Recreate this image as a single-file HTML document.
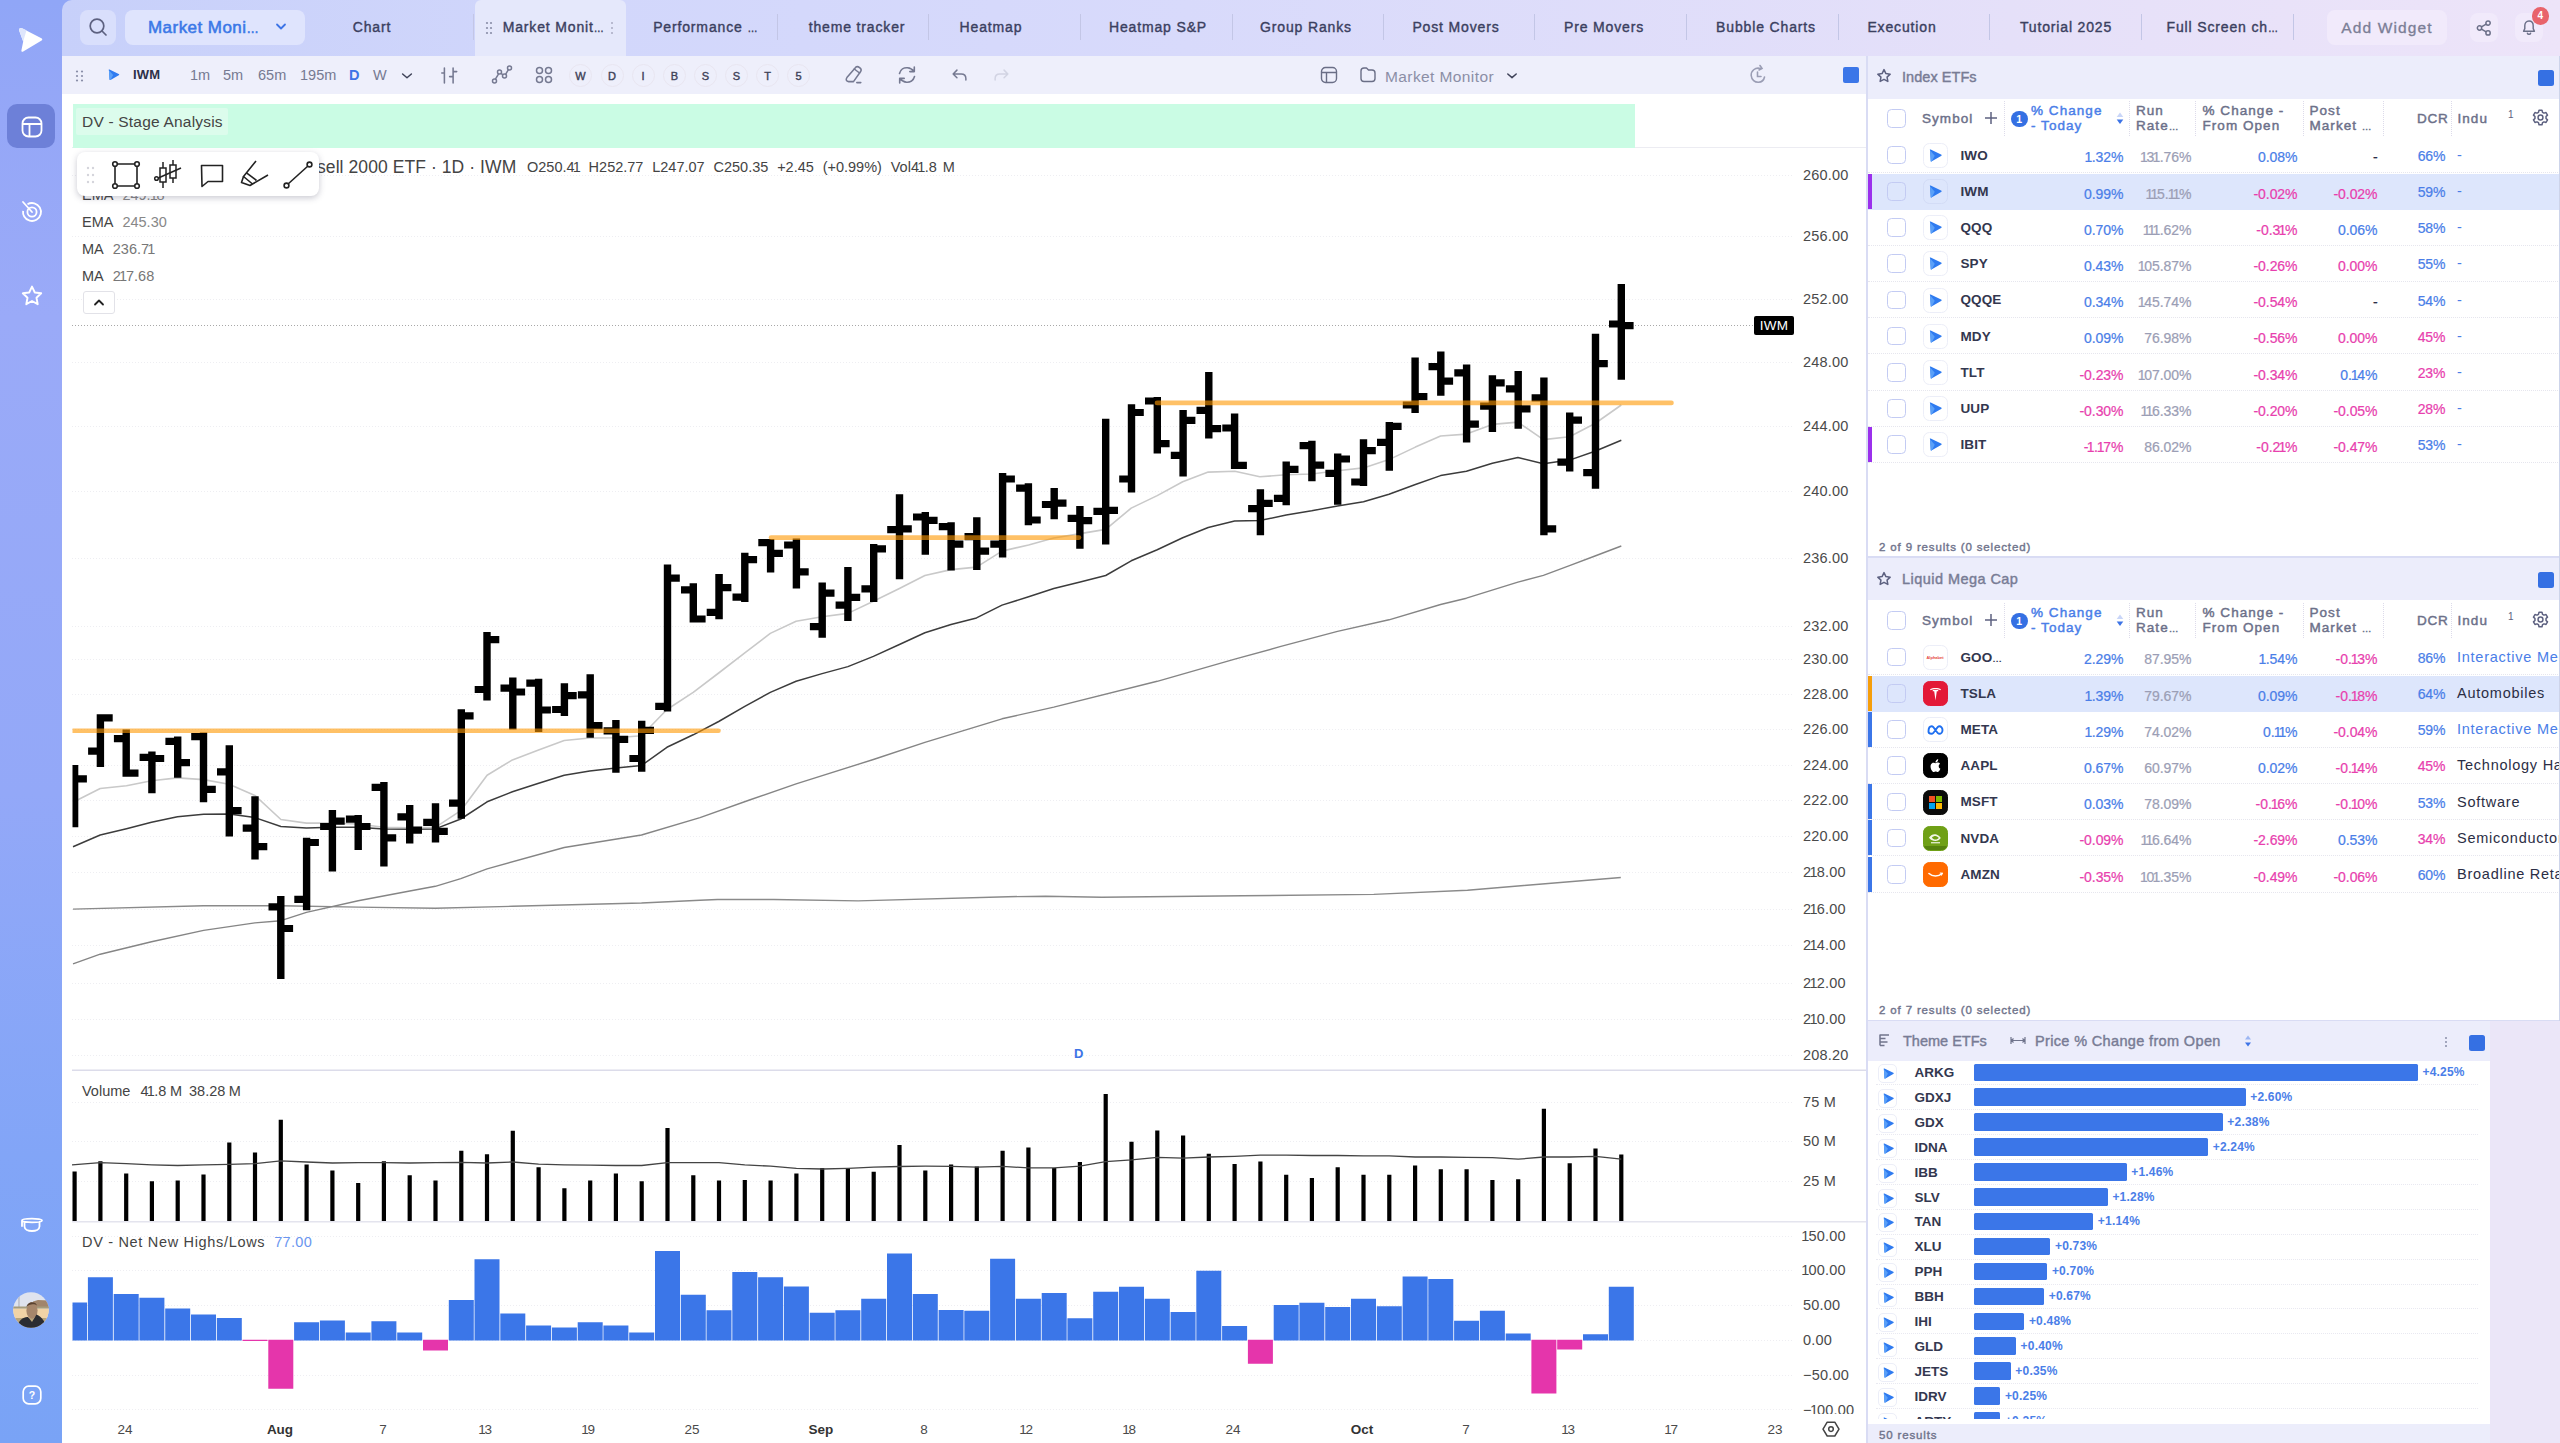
<!DOCTYPE html>
<html><head><meta charset="utf-8"><title>Market Monitor</title>
<style>
*{box-sizing:border-box;margin:0;padding:0}
html,body{width:2560px;height:1443px;overflow:hidden;background:#fff}
body{font-family:"Liberation Sans",sans-serif;color:#3a3f55;position:relative}
.abs{position:absolute}
b.o{font-weight:inherit;margin:0 -1.15px 0 -1.75px}
b.o.a{margin-left:-1px}
b.o.z{margin-right:-.5px}
.el{font-size:72%;letter-spacing:-.6px;margin-left:0}
.sb{font-weight:normal!important;-webkit-text-stroke:.45px currentColor}
.ax{font-size:14.5px;color:#4a4a4a;line-height:20px;white-space:nowrap;letter-spacing:.2px}
.axx{font-size:13.5px;color:#4a4a4a;width:60px;text-align:center;line-height:20px}
.axx.b{font-weight:bold;color:#333}
#side{left:0;top:0;width:62px;height:1443px;background:linear-gradient(180deg,#90a6f7 0%,#95a7f7 8%,#9aaaf8 22%,#93a8f8 55%,#82a5f7 80%,#79a3f6 100%)}
#top{left:62px;top:0;width:2498px;height:56px;border-top-left-radius:10px;background:linear-gradient(90deg,#c7d0fa 0%,#d2d7fb 22%,#d8dafb 45%,#e5e0f9 78%,#ede4f9 100%)}
.tab{position:absolute;top:0;height:56px;line-height:55.5px;font-size:14px;font-weight:normal;-webkit-text-stroke:.38px #3b4060;color:#3b4060;text-align:center;white-space:nowrap;letter-spacing:.85px}
.sep{position:absolute;top:14px;width:1px;height:26px;background:#c3c6e6}
#tool{left:62px;top:56px;width:1805px;height:38px;background:#eeeffb}
.tf{position:absolute;top:0;line-height:38px;font-size:14.5px;color:#767a92;white-space:nowrap}
.circ{position:absolute;top:8px;width:23px;height:23px;border-radius:12px;border:1px solid #e9e6f1;font-size:11px;font-weight:normal;-webkit-text-stroke:.4px #3e4258;color:#3e4258;text-align:center;line-height:23px}
#chart{position:absolute;left:0;top:0;width:1867px;height:1443px}
.leg{position:absolute;left:82px;font-size:14.5px;color:#444;line-height:20px;white-space:nowrap;margin-top:.7px}
.leg span{color:#888;margin-left:9px}
</style></head><body>
<div id="side" class="abs"><svg class="abs" style="left:17px;top:26px" width="28" height="28" viewBox="0 0 28 28" ><path d="M4.500 2C2.800 1.600 1.600 3 2.200 4.800L6.200 15.400L4.400 24.400C4.200 25.600 5.200 26.200 6.200 25.600L24.600 14.600C25.600 14 25.500 12.800 24.400 12.300Z" fill="#fff"/><path d="M4.500 2C2.800 1.600 1.600 3 2.200 4.800L6.200 15.400L9.500 4.200Z" fill="#dfe6fc"/></svg><div class="abs" style="left:7px;top:104px;width:48px;height:44px;border-radius:10px;background:#6d80d8"></div><svg class="abs" style="left:21px;top:116px" width="22" height="22" viewBox="0 0 22 22" ><rect x="1.5" y="1.5" width="19" height="19" rx="6" fill="none" stroke="#fff" stroke-width="1.8"/><path d="M1.5 8H20.5M8.5 8V20.5" stroke="#fff" stroke-width="1.8" fill="none"/></svg><svg class="abs" style="left:20px;top:199px" width="24" height="24" viewBox="0 0 24 24" ><circle cx="12" cy="13" r="9" fill="none" stroke="#fff" stroke-width="1.8" stroke-dasharray="48 9" transform="rotate(-120 12 13)"/><circle cx="12" cy="13" r="4.6" fill="none" stroke="#fff" stroke-width="1.8"/><path d="M3 3L12 13" stroke="#fff" stroke-width="1.8" stroke-linecap="round"/></svg><svg class="abs" style="left:20px;top:284px" width="24" height="24" viewBox="0 0 24 24" ><path d="M12 2.6l2.8 5.9 6.4.8-4.7 4.5 1.2 6.4L12 17l-5.7 3.2 1.2-6.4L2.8 9.3l6.4-.8z" fill="none" stroke="#fff" stroke-width="1.9" stroke-linejoin="round"/></svg><svg class="abs" style="left:19px;top:1214px" width="26" height="20" viewBox="0 0 26 20" ><path d="M3 6.5C3 4 23 4 23 6.5S3 9 3 6.5ZM5.5 8V12.5C5.5 18.5 20.5 18.5 20.5 12.5V8M3 6.5V12" fill="none" stroke="#fff" stroke-width="1.8" stroke-linecap="round"/></svg><svg class="abs" style="left:13px;top:1291.5px" width="36" height="36" viewBox="0 0 36 36" ><defs><clipPath id="av"><circle cx="18" cy="18" r="17.800"/></clipPath></defs><g clip-path="url(#av)"><rect width="36" height="36" fill="#dfe3ee"/><rect x="5.300" y="4" width="1.300" height="11" fill="#b5b8c2"/><path d="M20 9.500L25 8L36 8.500V16H20Z" fill="#a1856b"/><rect x="0" y="14.500" width="36" height="2.200" fill="#a59c7c"/><rect x="0" y="16.700" width="36" height="9.500" fill="#f1d3a6"/><rect x="0" y="26" width="36" height="10" fill="#b8a47c"/><ellipse cx="19" cy="18.500" rx="5.600" ry="8.200" fill="#a6866b"/><path d="M13.500 15C14 9.500 22.500 8.500 24 13.500C22 11.500 16 11.500 13.500 15Z" fill="#5b4330"/><path d="M4 36C5 28 11 24.500 15 25L19 30L23.500 22.500C29 25 32.500 30 33.500 36Z" fill="#2b2c31"/></g></svg><svg class="abs" style="left:22px;top:1385px" width="20" height="20" viewBox="0 0 20 20" ><rect x="1.200" y="1.200" width="17.600" height="17.600" rx="5.500" fill="none" stroke="#fff" stroke-width="1.700"/><text x="10" y="14" font-family="Liberation Sans" font-size="10.500" font-weight="bold" fill="#fff" text-anchor="middle">?</text></svg></div><div class="abs" style="left:62px;top:0;width:12px;height:12px;background:#90a6f7"></div><div id="top" class="abs"><div class="abs" style="left:18px;top:10px;width:36px;height:35px;border-radius:8px;background:#d9dffc"></div><svg class="abs" style="left:26px;top:17px" width="20" height="20" viewBox="0 0 20 20" ><circle cx="9" cy="9" r="6.8" fill="none" stroke="#5d6180" stroke-width="1.7"/><path d="M14 14L18 18" stroke="#5d6180" stroke-width="1.7" stroke-linecap="round"/></svg><div class="abs" style="left:63px;top:10px;width:180px;height:35px;border-radius:8px;background:#dfe4fd"></div><div class="abs" style="left:86px;top:10px;line-height:35px;font-size:17px;font-weight:normal;-webkit-text-stroke:.55px #3b78e7;color:#3b78e7;letter-spacing:.45px;white-space:nowrap">Market Moni<span class="el">…</span></div><svg class="abs" style="left:213px;top:22px" width="12" height="10" viewBox="0 0 12 10" ><path d="M2 2.5L6 6.5L10 2.5" fill="none" stroke="#3d74e6" stroke-width="1.8" stroke-linecap="round" stroke-linejoin="round"/></svg><div class="abs" style="left:413px;top:0;width:151px;height:56px;background:#e5e8fb;border-radius:6px 6px 0 0"></div><svg class="abs" style="left:423px;top:21px" width="8" height="14" viewBox="0 0 8 14" ><g fill="#8a8ea8"><circle cx="2" cy="2" r="1.1"/><circle cx="6" cy="2" r="1.1"/><circle cx="2" cy="7" r="1.1"/><circle cx="6" cy="7" r="1.1"/><circle cx="2" cy="12" r="1.1"/><circle cx="6" cy="12" r="1.1"/></g></svg><svg class="abs" style="left:548px;top:21px" width="4" height="14" viewBox="0 0 4 14" ><g fill="#a8abc2"><circle cx="2" cy="2" r="1"/><circle cx="2" cy="7" r="1"/><circle cx="2" cy="12" r="1"/></g></svg><div class="tab" style="left:235.0px;width:150px">Chart</div><div class="tab" style="left:416.0px;width:150px">Market Monit<span class="el">…</span></div><div class="tab" style="left:568.0px;width:150px">Performance <span class="el">…</span></div><div class="tab" style="left:720.0px;width:150px">theme tracker</div><div class="tab" style="left:854.0px;width:150px">Heatmap</div><div class="tab" style="left:1021.0px;width:150px">Heatmap S&amp;P</div><div class="tab" style="left:1169.0px;width:150px">Group Ranks</div><div class="tab" style="left:1319.0px;width:150px">Post Movers</div><div class="tab" style="left:1467.0px;width:150px">Pre Movers</div><div class="tab" style="left:1629.0px;width:150px">Bubble Charts</div><div class="tab" style="left:1765.0px;width:150px">Execution</div><div class="tab" style="left:1929.0px;width:150px">Tutorial 2025</div><div class="tab" style="left:2085.0px;width:150px">Full Screen ch<span class="el">…</span></div><div class="sep" style="left:411px"></div><div class="sep" style="left:715px"></div><div class="sep" style="left:866px"></div><div class="sep" style="left:1018px"></div><div class="sep" style="left:1170px"></div><div class="sep" style="left:1321px"></div><div class="sep" style="left:1472px"></div><div class="sep" style="left:1624px"></div><div class="sep" style="left:1776px"></div><div class="sep" style="left:1927px"></div><div class="sep" style="left:2079px"></div><div class="sep" style="left:2231px"></div><div class="abs" style="left:2265px;top:10px;width:120px;height:35px;border-radius:8px;background:#f1eafb"></div><div class="abs" style="left:2265px;top:10px;width:120px;line-height:35px;text-align:center;font-size:15.5px;color:#7b7e96;-webkit-text-stroke:.3px #7b7e96;letter-spacing:1.15px">Add Widget</div><div class="abs" style="left:2408px;top:13px;width:28px;height:29px;border-radius:8px;background:#f1eafb"></div><svg class="abs" style="left:2413px;top:18.5px" width="18" height="18" viewBox="0 0 20 20" ><g fill="none" stroke="#6b6f88" stroke-width="1.65"><circle cx="14.5" cy="4.5" r="2.4"/><circle cx="5" cy="10" r="2.4"/><circle cx="14.5" cy="15.5" r="2.4"/><path d="M7.2 8.8L12.4 5.7M7.2 11.2L12.4 14.3"/></g></svg><div class="abs" style="left:2453px;top:13px;width:28px;height:29px;border-radius:8px;background:#f1eafb"></div><svg class="abs" style="left:2459px;top:19px" width="16" height="18" viewBox="0 0 16 18" ><path d="M8 2C5.200 2 3.800 4 3.800 6.800V9.600L2.600 12.300H13.400L12.200 9.600V6.800C12.200 4 10.800 2 8 2ZM6.400 14.200C6.800 15.600 9.200 15.600 9.600 14.200" fill="none" stroke="#6b6f88" stroke-width="1.45" stroke-linejoin="round" stroke-linecap="round"/></svg><div class="abs" style="left:2469.600px;top:7px;width:17.600px;height:17.600px;border-radius:9px;background:#e8636b;color:#fff;font-size:10px;font-weight:bold;text-align:center;line-height:17.600px">4</div></div><div id="tool" class="abs"><svg class="abs" style="left:13px;top:14px" width="10" height="12" viewBox="0 0 10 12" ><g fill="#8a8ea8"><circle cx="2" cy="1.5" r="1.1"/><circle cx="7" cy="1.5" r="1.1"/><circle cx="2" cy="6" r="1.1"/><circle cx="7" cy="6" r="1.1"/><circle cx="2" cy="10.5" r="1.1"/><circle cx="7" cy="10.5" r="1.1"/></g></svg><svg class="abs" style="left:46px;top:13px" width="12" height="12" viewBox="0 0 16 16" ><path d="M1.2 1.6C0.6 0.9 1.2 0.3 2 0.7L14.3 6.6C15.2 7 15.2 7.9 14.3 8.4L3.4 14.6C2.6 15.1 1.9 14.7 2 13.8Z" fill="#2f7bf0"/><path d="M1.2 1.6L2 13.8C1.9 14.7 2.6 15.1 3.4 14.6L6.8 8Z" fill="#5aa0f8"/></svg><div class="tf"  style="font-size:13px;letter-spacing:.2px;left:71px;color:#2e3148;font-weight:bold;">IWM</div><div class="tf" style="left:128px;color:#767a92;">1m</div><div class="tf" style="left:161px;color:#767a92;">5m</div><div class="tf" style="left:196px;color:#767a92;">65m</div><div class="tf" style="left:238px;color:#767a92;">195m</div><div class="tf" style="left:287px;color:#3d74e6;font-weight:bold;">D</div><div class="tf" style="left:311px;color:#767a92;">W</div><svg class="abs" style="left:339px;top:15px" width="12" height="10" viewBox="0 0 12 10" ><path d="M1.600 3L6 6.800L10.400 3" fill="none" stroke="#3e4258" stroke-width="1.5" stroke-linecap="round" stroke-linejoin="round"/></svg><svg class="abs" style="left:378px;top:9px" width="20" height="20" viewBox="0 0 20 20" ><g fill="none" stroke="#757991" stroke-width="1.55" stroke-linecap="round"><path d="M4.400 3V18M1.800 7.900H4.400M13.100 3V18M13.100 6.600H16.700M13.100 11.600H9.600"/></g></svg><svg class="abs" style="left:429px;top:8px" width="22" height="22" viewBox="0 0 22 22" ><g fill="none" stroke="#757991" stroke-width="1.5"><circle cx="3.5" cy="17" r="2"/><circle cx="8.5" cy="8" r="2"/><circle cx="13.5" cy="12" r="2"/><circle cx="18.5" cy="4" r="2"/><path d="M4.4 15.2L7.6 9.8M10 9.3L12 10.8M14.6 10.3L17.4 5.7"/></g></svg><svg class="abs" style="left:473px;top:10px" width="18" height="18" viewBox="0 0 18 18" ><g fill="none" stroke="#757991" stroke-width="1.5"><circle cx="4.5" cy="4.5" r="3"/><circle cx="13.5" cy="4.5" r="3"/><circle cx="4.5" cy="13.5" r="3"/><circle cx="13.5" cy="13.5" r="3"/></g></svg><div class="circ" style="left:507.0px">W</div><div class="circ" style="left:538.5px">D</div><div class="circ" style="left:569.5px">I</div><div class="circ" style="left:601.0px">B</div><div class="circ" style="left:632.0px">S</div><div class="circ" style="left:663.0px">S</div><div class="circ" style="left:694.0px">T</div><div class="circ" style="left:725.0px">5</div><svg class="abs" style="left:781px;top:8px" width="22" height="22" viewBox="0 0 22 22" ><g fill="none" stroke="#757991" stroke-width="1.55" stroke-linejoin="round" stroke-linecap="round"><path d="M12.800 3.200C14.800 1.400 19.300 4.800 17.800 7.200L10.500 17.600H5.600C3.200 17.600 2.600 15.400 3.900 13.600Z"/><path d="M11.300 5L16.500 9M13.800 18.600H17.800"/></g></svg><svg class="abs" style="left:834px;top:8px" width="22" height="22" viewBox="0 0 22 22" ><g fill="none" stroke="#757991" stroke-width="1.6" stroke-linecap="round" stroke-linejoin="round"><path d="M3.5 9.5C4.5 5.5 8 3.5 11.5 3.8C14.5 4 16.5 5.5 18 7.5M18.3 3V7.6H13.8"/><path d="M18.5 12.5C17.5 16.5 14 18.5 10.5 18.2C7.5 18 5.5 16.5 4 14.5M3.7 19V14.4H8.2"/></g></svg><svg class="abs" style="left:889px;top:12px" width="17" height="15.3" viewBox="0 0 20 18" ><path d="M7 2.5L2.5 7L7 11.500M2.500 7H12C15.500 7 17.500 9.500 17.500 12.500V14" fill="none" stroke="#757991" stroke-width="1.75" stroke-linecap="round" stroke-linejoin="round"/></svg><svg class="abs" style="left:930.5px;top:12px" width="17" height="15.3" viewBox="0 0 20 18" ><path d="M13 2.5L17.500 7L13 11.500M17.500 7H8C4.500 7 2.500 9.500 2.500 12.500V14" fill="none" stroke="#d2d4e3" stroke-width="1.75" stroke-linecap="round" stroke-linejoin="round"/></svg><svg class="abs" style="left:1258px;top:10px" width="18" height="18" viewBox="0 0 18 18" ><g fill="none" stroke="#6a6e86" stroke-width="1.4"><rect x="1.5" y="1.5" width="15" height="15" rx="4"/><path d="M1.5 6.5H16.5M6.5 6.5V16.5"/></g></svg><svg class="abs" style="left:1297px;top:10px" width="18" height="18" viewBox="0 0 18 18" ><path d="M2 5C2 3 3 2 5 2H7.5L9.5 4H13C15 4 16 5 16 7V12.5C16 14.5 15 15.5 13 15.5H5C3 15.5 2 14.5 2 12.5Z" fill="none" stroke="#6a6e86" stroke-width="1.4" stroke-linejoin="round"/></svg><div class="tf" style="left:1323px;top:1.500px;font-size:15.5px;color:#8b8ea6;letter-spacing:.4px">Market Monitor</div><svg class="abs" style="left:1444px;top:15px" width="12" height="10" viewBox="0 0 12 10" ><path d="M1.800 3L6 6.600L10.200 3" fill="none" stroke="#3e4258" stroke-width="1.500" stroke-linecap="round" stroke-linejoin="round"/></svg><svg class="abs" style="left:1686px;top:8px" width="20" height="22" viewBox="0 0 20 22" ><g fill="none" stroke="#9a9db4" stroke-width="1.6" stroke-linecap="round"><path d="M12.5 4.5C7 3 3 7 3.2 11.5C3.5 16 7 18.5 10.5 18.3C14 18 16 15.5 16.5 13"/><path d="M9.5 8V12.5H13M12 1.5L14 4.5L11 6"/></g></svg><div class="abs" style="left:1781px;top:11px;width:16px;height:16px;border-radius:2px;background:#3b76e8"></div></div><div id="chart"><svg class="abs" style="left:0;top:0" width="2560" height="1443" viewBox="0 0 2560 1443">
<line x1="72" x2="1793" y1="175.5" y2="175.5" stroke="#eeeef2" stroke-width="1" stroke-dasharray="1 2"/>
<line x1="72" x2="1793" y1="236.5" y2="236.5" stroke="#eeeef2" stroke-width="1" stroke-dasharray="1 2"/>
<line x1="72" x2="1793" y1="299.5" y2="299.5" stroke="#eeeef2" stroke-width="1" stroke-dasharray="1 2"/>
<line x1="72" x2="1793" y1="362.5" y2="362.5" stroke="#eeeef2" stroke-width="1" stroke-dasharray="1 2"/>
<line x1="72" x2="1793" y1="426.5" y2="426.5" stroke="#eeeef2" stroke-width="1" stroke-dasharray="1 2"/>
<line x1="72" x2="1793" y1="491.5" y2="491.5" stroke="#eeeef2" stroke-width="1" stroke-dasharray="1 2"/>
<line x1="72" x2="1793" y1="558.5" y2="558.5" stroke="#eeeef2" stroke-width="1" stroke-dasharray="1 2"/>
<line x1="72" x2="1793" y1="626.5" y2="626.5" stroke="#eeeef2" stroke-width="1" stroke-dasharray="1 2"/>
<line x1="72" x2="1793" y1="659.5" y2="659.5" stroke="#eeeef2" stroke-width="1" stroke-dasharray="1 2"/>
<line x1="72" x2="1793" y1="694.5" y2="694.5" stroke="#eeeef2" stroke-width="1" stroke-dasharray="1 2"/>
<line x1="72" x2="1793" y1="729.5" y2="729.5" stroke="#eeeef2" stroke-width="1" stroke-dasharray="1 2"/>
<line x1="72" x2="1793" y1="765.5" y2="765.5" stroke="#eeeef2" stroke-width="1" stroke-dasharray="1 2"/>
<line x1="72" x2="1793" y1="800.5" y2="800.5" stroke="#eeeef2" stroke-width="1" stroke-dasharray="1 2"/>
<line x1="72" x2="1793" y1="836.5" y2="836.5" stroke="#eeeef2" stroke-width="1" stroke-dasharray="1 2"/>
<line x1="72" x2="1793" y1="872.5" y2="872.5" stroke="#eeeef2" stroke-width="1" stroke-dasharray="1 2"/>
<line x1="72" x2="1793" y1="909.5" y2="909.5" stroke="#eeeef2" stroke-width="1" stroke-dasharray="1 2"/>
<line x1="72" x2="1793" y1="945.5" y2="945.5" stroke="#eeeef2" stroke-width="1" stroke-dasharray="1 2"/>
<line x1="72" x2="1793" y1="983.5" y2="983.5" stroke="#eeeef2" stroke-width="1" stroke-dasharray="1 2"/>
<line x1="72" x2="1793" y1="1019.5" y2="1019.5" stroke="#eeeef2" stroke-width="1" stroke-dasharray="1 2"/>
<line x1="72" x2="1793" y1="1055.5" y2="1055.5" stroke="#eeeef2" stroke-width="1" stroke-dasharray="1 2"/>
<line x1="72" x2="1793" y1="1102.5" y2="1102.5" stroke="#eeeef2" stroke-width="1" stroke-dasharray="1 2"/>
<line x1="72" x2="1793" y1="1141.5" y2="1141.5" stroke="#eeeef2" stroke-width="1" stroke-dasharray="1 2"/>
<line x1="72" x2="1793" y1="1181.5" y2="1181.5" stroke="#eeeef2" stroke-width="1" stroke-dasharray="1 2"/>
<line x1="72" x2="1793" y1="1236.5" y2="1236.5" stroke="#eeeef2" stroke-width="1" stroke-dasharray="1 2"/>
<line x1="72" x2="1793" y1="1270.5" y2="1270.5" stroke="#eeeef2" stroke-width="1" stroke-dasharray="1 2"/>
<line x1="72" x2="1793" y1="1305.5" y2="1305.5" stroke="#eeeef2" stroke-width="1" stroke-dasharray="1 2"/>
<line x1="72" x2="1793" y1="1340.5" y2="1340.5" stroke="#eeeef2" stroke-width="1" stroke-dasharray="1 2"/>
<line x1="72" x2="1793" y1="1375.5" y2="1375.5" stroke="#eeeef2" stroke-width="1" stroke-dasharray="1 2"/>
<line x1="72" x2="1793" y1="1409.5" y2="1409.5" stroke="#eeeef2" stroke-width="1" stroke-dasharray="1 2"/>
<rect x="72" y="1069.5" width="1794" height="1.5" fill="#dcdcea"/>
<rect x="72" y="1221" width="1794" height="1.5" fill="#e4e4ee"/>
<rect x="72" y="147" width="1794" height="1" fill="#ececf2"/>
<polyline points="73.0,909.1 203.6,905.7 280.9,905.7 358.2,907.1 435.3,908.2 512.4,906.3 641.5,903.0 700.0,900.2 717.5,899.5 773.8,899.5 858.1,900.9 1008.1,896.7 1045.6,896.2 1101.9,897.2 1242.5,895.8 1373.8,894.4 1467.5,890.2 1523.8,885.5 1620.8,877.5" fill="none" stroke="#8a8a8a" stroke-width="1.4" stroke-linejoin="round"/>
<polyline points="73.0,963.9 100.2,954.2 151.5,941.8 203.6,930.4 254.9,922.9 280.9,920.7 306.4,912.4 358.2,900.7 409.8,891.0 435.3,886.3 460.8,878.6 487.1,868.9 564.2,847.5 641.5,835.0 700.0,817.6 749.5,800.0 796.1,783.9 873.4,759.5 924.9,742.3 1002.0,718.8 1053.8,707.1 1157.2,681.3 1234.8,659.2 1280.0,646.7 1337.5,631.4 1389.0,619.8 1440.6,604.5 1466.4,598.2 1517.9,582.1 1543.4,575.4 1569.5,565.7 1595.0,556.0 1621.3,546.0" fill="none" stroke="#858585" stroke-width="1.4" stroke-linejoin="round"/>
<polyline points="73.0,802.3 100.2,788.5 126.5,785.7 151.5,780.7 177.5,777.9 203.6,779.6 229.1,784.3 254.9,795.4 280.9,819.5 306.4,823.1 332.2,823.1 358.2,824.0 383.5,827.3 409.8,827.8 435.3,827.3 460.8,810.7 487.1,775.2 512.4,759.9 537.9,750.2 564.2,740.5 589.7,738.0 616.0,737.8 641.5,735.8 667.0,709.5 693.2,692.4 718.7,673.0 744.8,652.8 770.3,633.4 796.1,621.2 822.1,616.8 847.9,613.4 873.4,601.2 899.4,588.5 924.9,575.5 951.0,569.6 976.5,567.1 1002.0,551.1 1028.6,545.0 1053.8,538.0 1080.2,533.6 1105.7,529.4 1131.2,508.1 1157.2,495.6 1182.7,481.8 1208.2,472.1 1234.8,471.2 1259.8,476.8 1286.2,474.8 1311.7,474.0 1337.5,470.7 1363.5,467.9 1389.0,459.6 1415.4,447.1 1440.6,436.0 1466.4,434.1 1492.4,424.4 1517.9,422.1 1543.4,439.6 1569.5,436.8 1595.0,423.5 1621.3,405.0" fill="none" stroke="#c9c9c9" stroke-width="1.6" stroke-linejoin="round"/>
<polyline points="73.0,846.7 100.2,835.0 126.5,828.7 151.5,822.3 177.5,816.8 203.6,814.3 229.1,814.0 254.9,817.6 280.9,826.5 306.4,828.1 332.2,827.3 358.2,827.3 383.5,828.9 409.8,829.2 435.3,828.9 460.8,819.0 487.1,801.8 512.4,791.8 537.9,783.5 564.2,775.2 589.7,771.0 616.0,768.0 641.5,765.5 666.9,747.3 693.2,734.8 718.7,721.5 744.8,706.3 770.3,692.4 796.1,681.3 822.1,673.6 847.9,666.6 873.4,656.4 899.4,644.5 924.9,632.8 951.0,624.5 976.5,617.9 1002.0,605.1 1028.6,596.8 1053.8,588.5 1080.2,582.1 1105.7,575.5 1131.2,560.8 1157.2,549.7 1182.7,537.8 1208.2,527.5 1234.6,521.1 1259.8,520.6 1286.2,515.0 1311.7,510.8 1337.5,505.9 1363.5,501.7 1389.0,494.2 1415.4,484.5 1440.6,475.6 1466.4,471.2 1492.4,463.2 1517.9,457.6 1543.4,463.7 1569.5,460.1 1595.0,451.3 1621.3,440.2" fill="none" stroke="#3c3c3c" stroke-width="1.5" stroke-linejoin="round"/>
<line x1="72" x2="1754" y1="325.5" y2="325.5" stroke="#a8a8a8" stroke-width="1" stroke-dasharray="1 2"/>
<path d="M72.5 764.9H78.3V827.3H72.5ZM74.6 775.2H86.9V782.4H74.6ZM96.7 714.2H104.1V767.1H96.7ZM88.1 747.5H100.4V754.7H88.1ZM100.4 714.2H112.7V721.4H100.4ZM122.5 729.4H129.9V776.8H122.5ZM113.9 735.0H126.2V742.2H113.9ZM126.2 769.6H138.5V776.8H126.2ZM148.2 751.6H155.6V793.2H148.2ZM139.6 753.8H151.9V761.0H139.6ZM151.9 754.9H164.2V762.1H151.9ZM174.0 736.4H181.4V777.7H174.0ZM165.4 737.8H177.7V745.0H165.4ZM177.7 759.1H190.0V766.3H177.7ZM199.8 732.5H207.2V802.3H199.8ZM191.2 733.0H203.5V740.2H191.2ZM203.5 785.7H215.8V792.9H203.5ZM225.6 745.2H233.0V836.4H225.6ZM217.0 768.2H229.3V775.4H217.0ZM229.3 807.1H241.6V814.3H229.3ZM251.3 796.2H258.7V859.4H251.3ZM242.7 824.5H255.0V831.7H242.7ZM255.0 843.1H267.3V850.3H255.0ZM277.1 896.0H284.5V978.9H277.1ZM268.5 903.2H280.8V910.4H268.5ZM280.8 924.9H293.1V932.1H280.8ZM302.9 837.8H310.3V910.2H302.9ZM294.3 895.8H306.6V903.0H294.3ZM306.6 838.9H318.9V846.1H306.6ZM328.7 810.1H336.1V871.4H328.7ZM320.1 822.9H332.4V830.1H320.1ZM332.4 817.6H344.7V824.8H332.4ZM354.5 815.1H361.9V850.0H354.5ZM345.9 815.6H358.2V822.8H345.9ZM358.2 822.9H370.5V830.1H358.2ZM380.2 782.1H387.6V866.4H380.2ZM371.6 783.8H383.9V791.0H371.6ZM383.9 834.2H396.2V841.4H383.9ZM406.0 805.1H413.4V843.4H406.0ZM397.4 813.2H409.7V820.4H397.4ZM409.7 826.5H422.0V833.7H409.7ZM431.8 803.2H439.2V842.5H431.8ZM423.2 818.7H435.5V825.9H423.2ZM435.5 827.8H447.8V835.0H435.5ZM457.6 709.2H465.0V818.7H457.6ZM449.0 799.6H461.3V806.8H449.0ZM461.3 712.3H473.6V719.5H461.3ZM483.3 631.9H490.7V700.6H483.3ZM474.7 685.9H487.0V693.1H474.7ZM487.0 636.0H499.3V643.2H487.0ZM509.1 677.6H516.5V729.4H509.1ZM500.5 684.5H512.8V691.7H500.5ZM512.8 688.4H525.1V695.6H512.8ZM534.9 678.7H542.3V731.9H534.9ZM526.3 679.6H538.6V686.8H526.3ZM538.6 706.4H550.9V713.6H538.6ZM560.7 683.2H568.1V715.9H560.7ZM552.1 705.9H564.4V713.1H552.1ZM564.4 692.0H576.7V699.2H564.4ZM586.5 674.3H593.9V737.8H586.5ZM577.9 691.2H590.2V698.4H577.9ZM590.2 722.0H602.5V729.2H590.2ZM612.2 720.0H619.6V772.7H612.2ZM603.6 727.2H615.9V734.4H603.6ZM615.9 735.8H628.2V743.0H615.9ZM638.0 720.8H645.4V771.8H638.0ZM629.4 754.9H641.7V762.1H629.4ZM641.7 726.7H654.0V733.9H641.7ZM663.8 564.6H671.2V711.5H663.8ZM655.2 702.7H667.5V709.9H655.2ZM667.5 574.6H679.8V581.8H667.5ZM689.6 583.2H697.0V622.6H689.6ZM681.0 586.3H693.3V593.5H681.0ZM693.3 615.4H705.6V622.6H693.3ZM715.3 574.1H722.8V619.2H715.3ZM706.7 608.7H719.0V615.9H706.7ZM719.0 584.0H731.4V591.2H719.0ZM741.1 552.7H748.5V602.1H741.1ZM732.5 593.5H744.8V600.7H732.5ZM744.8 556.1H757.1V563.3H744.8ZM766.9 539.1H774.3V572.4H766.9ZM758.3 539.1H770.6V546.3H758.3ZM770.6 549.7H782.9V556.9H770.6ZM792.7 538.6H800.1V588.5H792.7ZM784.1 541.4H796.4V548.6H784.1ZM796.4 568.2H808.7V575.4H796.4ZM818.5 582.4H825.9V637.8H818.5ZM809.9 623.1H822.2V630.3H809.9ZM822.2 589.6H834.5V596.8H822.2ZM844.2 567.1H851.6V620.9H844.2ZM835.6 601.5H847.9V608.7H835.6ZM847.9 593.7H860.2V600.9H847.9ZM870.0 544.1H877.4V602.1H870.0ZM861.4 585.2H873.7V592.4H861.4ZM873.7 545.2H886.0V552.4H873.7ZM895.8 494.2H903.2V579.3H895.8ZM887.2 526.1H899.5V533.3H887.2ZM899.5 525.3H911.8V532.5H899.5ZM921.6 512.0H929.0V554.7H921.6ZM913.0 513.4H925.3V520.6H913.0ZM925.3 516.7H937.6V523.9H925.3ZM947.4 522.2H954.8V570.5H947.4ZM938.8 523.1H951.1V530.3H938.8ZM951.1 540.5H963.4V547.7H951.1ZM973.1 517.2H980.5V569.9H973.1ZM964.5 533.0H976.8V540.2H964.5ZM976.8 547.5H989.1V554.7H976.8ZM998.9 472.9H1006.3V557.4H998.9ZM990.3 540.5H1002.6V547.7H990.3ZM1002.6 475.4H1014.9V482.6H1002.6ZM1024.7 483.2H1032.1V525.3H1024.7ZM1016.1 484.5H1028.4V491.7H1016.1ZM1028.4 516.4H1040.7V523.6H1028.4ZM1050.5 488.1H1057.9V519.2H1050.5ZM1041.9 500.9H1054.2V508.1H1041.9ZM1054.2 499.5H1066.5V506.7H1054.2ZM1076.2 505.9H1083.6V548.8H1076.2ZM1067.6 514.8H1079.9V522.0H1067.6ZM1079.9 517.0H1092.2V524.2H1079.9ZM1102.0 418.8H1109.4V544.4H1102.0ZM1093.4 507.8H1105.7V515.0H1093.4ZM1105.7 506.7H1118.0V513.9H1105.7ZM1127.8 404.2H1135.2V492.6H1127.8ZM1119.2 475.4H1131.5V482.6H1119.2ZM1131.5 408.9H1143.8V416.1H1131.5ZM1153.6 397.1H1161.0V453.6H1153.6ZM1145.0 397.4H1157.3V404.6H1145.0ZM1157.3 440.1H1169.6V447.3H1157.3ZM1179.4 410.1H1186.8V476.5H1179.4ZM1170.8 451.8H1183.1V459.0H1170.8ZM1183.1 416.8H1195.4V424.0H1183.1ZM1205.1 371.9H1212.5V438.4H1205.1ZM1196.5 406.7H1208.8V413.9H1196.5ZM1208.8 425.1H1221.1V432.3H1208.8ZM1230.9 413.5H1238.3V468.9H1230.9ZM1222.3 424.4H1234.6V431.6H1222.3ZM1234.6 461.7H1246.9V468.9H1234.6ZM1256.7 489.2H1264.1V535.2H1256.7ZM1248.1 505.0H1260.4V512.2H1248.1ZM1260.4 499.8H1272.7V507.0H1260.4ZM1282.5 461.5H1289.9V505.3H1282.5ZM1273.9 494.8H1286.2V502.0H1273.9ZM1286.2 465.7H1298.5V472.9H1286.2ZM1308.2 440.7H1315.6V481.2H1308.2ZM1299.6 442.1H1311.9V449.3H1299.6ZM1311.9 461.5H1324.2V468.7H1311.9ZM1334.0 453.5H1341.4V504.7H1334.0ZM1325.4 469.8H1337.7V477.0H1325.4ZM1337.7 455.4H1350.0V462.6H1337.7ZM1359.8 439.3H1367.2V485.9H1359.8ZM1351.2 478.4H1363.5V485.6H1351.2ZM1363.5 447.1H1375.8V454.3H1363.5ZM1385.6 422.1H1393.0V470.7H1385.6ZM1377.0 438.8H1389.3V446.0H1377.0ZM1389.3 422.7H1401.6V429.9H1389.3ZM1411.4 357.6H1418.8V413.0H1411.4ZM1402.8 401.4H1415.1V408.6H1402.8ZM1415.1 393.0H1427.4V400.2H1415.1ZM1437.1 351.5H1444.5V395.8H1437.1ZM1428.5 363.1H1440.8V370.3H1428.5ZM1440.8 377.5H1453.1V384.7H1440.8ZM1462.9 364.5H1470.3V442.4H1462.9ZM1454.3 369.2H1466.6V376.4H1454.3ZM1466.6 420.5H1478.9V427.7H1466.6ZM1488.7 375.3H1496.1V432.1H1488.7ZM1480.1 402.5H1492.4V409.7H1480.1ZM1492.4 379.2H1504.7V386.4H1492.4ZM1514.5 370.9H1521.9V428.8H1514.5ZM1505.9 385.3H1518.2V392.5H1505.9ZM1518.2 405.2H1530.5V412.4H1518.2ZM1540.2 377.5H1547.6V535.2H1540.2ZM1531.6 394.2H1543.9V401.4H1531.6ZM1543.9 525.3H1556.2V532.5H1543.9ZM1566.0 412.4H1573.4V471.5H1566.0ZM1557.4 458.5H1569.7V465.7H1557.4ZM1569.7 416.6H1582.0V423.8H1569.7ZM1591.8 333.7H1599.2V488.7H1591.8ZM1583.2 469.0H1595.5V476.2H1583.2ZM1595.5 360.1H1607.8V367.3H1595.5ZM1617.6 284.1H1625.0V379.7H1617.6ZM1609.0 320.4H1621.3V327.6H1609.0ZM1621.3 322.1H1633.6V329.3H1621.3Z" fill="#000"/>
<clipPath id="cpl"><rect x="72.5" y="0" width="1800" height="1443"/></clipPath>
<line clip-path="url(#cpl)" x1="60" x2="718.5" y1="730.8" y2="730.8" stroke="#ff9800" stroke-opacity="0.6" stroke-width="4.6" stroke-linecap="round"/>
<line clip-path="url(#cpl)" x1="771" x2="1079" y1="537.6" y2="537.6" stroke="#ff9800" stroke-opacity="0.6" stroke-width="4.6" stroke-linecap="round"/>
<line clip-path="url(#cpl)" x1="1157" x2="1671.5" y1="402.9" y2="402.9" stroke="#ff9800" stroke-opacity="0.6" stroke-width="4.6" stroke-linecap="round"/>
<path d="M72.5 1171.4H76.7V1221H72.5ZM98.3 1161.2H102.5V1221H98.3ZM124.1 1173.6H128.3V1221H124.1ZM149.8 1181.3H154.0V1221H149.8ZM175.6 1180.6H179.8V1221H175.6ZM201.4 1174.6H205.6V1221H201.4ZM227.2 1142.6H231.4V1221H227.2ZM252.9 1152.5H257.1V1221H252.9ZM278.7 1119.8H282.9V1221H278.7ZM304.5 1164.4H308.7V1221H304.5ZM330.3 1170.4H334.5V1221H330.3ZM356.1 1183.0H360.3V1221H356.1ZM381.8 1161.2H386.0V1221H381.8ZM407.6 1175.3H411.8V1221H407.6ZM433.4 1180.6H437.6V1221H433.4ZM459.2 1150.7H463.4V1221H459.2ZM484.9 1154.2H489.1V1221H484.9ZM510.7 1130.7H514.9V1221H510.7ZM536.5 1167.2H540.7V1221H536.5ZM562.3 1188.3H566.5V1221H562.3ZM588.1 1180.6H592.3V1221H588.1ZM613.8 1173.6H618.0V1221H613.8ZM639.6 1181.3H643.8V1221H639.6ZM665.4 1127.9H669.6V1221H665.4ZM691.2 1175.3H695.4V1221H691.2ZM716.9 1180.6H721.1V1221H716.9ZM742.7 1179.9H746.9V1221H742.7ZM768.5 1180.6H772.7V1221H768.5ZM794.3 1173.6H798.5V1221H794.3ZM820.1 1167.9H824.3V1221H820.1ZM845.8 1167.9H850.0V1221H845.8ZM871.6 1171.8H875.8V1221H871.6ZM897.4 1145.1H901.6V1221H897.4ZM923.2 1170.4H927.4V1221H923.2ZM949.0 1164.6H953.2V1221H949.0ZM974.7 1166.4H978.9V1221H974.7ZM1000.5 1150.8H1004.7V1221H1000.5ZM1026.3 1147.6H1030.5V1221H1026.3ZM1052.1 1167.9H1056.3V1221H1052.1ZM1077.8 1162.1H1082.0V1221H1077.8ZM1103.6 1094.1H1107.8V1221H1103.6ZM1129.4 1141.7H1133.6V1221H1129.4ZM1155.2 1130.5H1159.4V1221H1155.2ZM1181.0 1135.6H1185.2V1221H1181.0ZM1206.7 1153.7H1210.9V1221H1206.7ZM1232.5 1163.9H1236.7V1221H1232.5ZM1258.3 1161.4H1262.5V1221H1258.3ZM1284.1 1174.8H1288.3V1221H1284.1ZM1309.8 1178.1H1314.0V1221H1309.8ZM1335.6 1167.2H1339.8V1221H1335.6ZM1361.4 1174.8H1365.6V1221H1361.4ZM1387.2 1174.8H1391.4V1221H1387.2ZM1413.0 1165.4H1417.2V1221H1413.0ZM1438.7 1169.3H1442.9V1221H1438.7ZM1464.5 1169.3H1468.7V1221H1464.5ZM1490.3 1179.9H1494.5V1221H1490.3ZM1516.1 1179.2H1520.3V1221H1516.1ZM1541.8 1108.7H1546.0V1221H1541.8ZM1567.6 1163.2H1571.8V1221H1567.6ZM1593.4 1148.6H1597.6V1221H1593.4ZM1619.2 1154.5H1623.4V1221H1619.2Z" fill="#000"/>
<polyline points="72.0,1164.9 100.4,1162.7 126.2,1163.7 151.9,1164.8 177.7,1165.5 203.5,1164.8 229.3,1164.4 255.0,1163.7 280.8,1160.9 306.6,1162.0 332.4,1163.0 358.2,1162.7 383.9,1162.7 409.7,1163.0 435.5,1162.7 461.3,1162.3 487.0,1163.0 512.8,1162.0 538.6,1164.1 564.4,1164.8 590.2,1165.1 615.9,1165.5 641.7,1165.5 667.5,1162.7 693.3,1162.7 719.0,1162.7 744.8,1164.8 770.6,1166.2 796.4,1168.3 822.2,1169.0 847.9,1168.3 873.7,1167.2 899.5,1166.5 925.3,1166.2 951.1,1166.4 976.8,1167.2 1002.6,1166.4 1028.4,1167.9 1054.2,1167.9 1079.9,1166.1 1105.7,1161.7 1131.5,1159.9 1157.3,1157.4 1183.1,1158.1 1208.8,1157.0 1234.6,1156.3 1260.4,1155.2 1286.2,1155.2 1311.9,1155.5 1337.7,1155.5 1363.5,1155.9 1389.3,1155.9 1415.1,1157.0 1440.8,1157.0 1466.6,1157.4 1492.4,1157.7 1518.2,1159.2 1543.9,1157.0 1569.7,1157.0 1595.5,1156.3 1621.3,1159.2" fill="none" stroke="#444" stroke-width="1.3" stroke-linejoin="round"/>
<path d="M72.5 1302.6H87.1V1340.5H72.5ZM87.9 1277.3H112.9V1340.5H87.9ZM113.7 1294.1H138.7V1340.5H113.7ZM139.4 1297.7H164.4V1340.5H139.4ZM165.2 1308.6H190.2V1340.5H165.2ZM191.0 1314.5H216.0V1340.5H191.0ZM216.8 1318.0H241.8V1340.5H216.8ZM294.1 1322.3H319.1V1340.5H294.1ZM319.9 1320.5H344.9V1340.5H319.9ZM345.7 1332.5H370.7V1340.5H345.7ZM371.4 1321.2H396.4V1340.5H371.4ZM397.2 1332.5H422.2V1340.5H397.2ZM448.8 1300.1H473.8V1340.5H448.8ZM474.5 1259.3H499.5V1340.5H474.5ZM500.3 1313.5H525.3V1340.5H500.3ZM526.1 1325.4H551.1V1340.5H526.1ZM551.9 1327.5H576.9V1340.5H551.9ZM577.7 1322.3H602.7V1340.5H577.7ZM603.4 1325.4H628.4V1340.5H603.4ZM629.2 1332.5H654.2V1340.5H629.2ZM655.0 1250.9H680.0V1340.5H655.0ZM680.8 1294.8H705.8V1340.5H680.8ZM706.5 1310.3H731.5V1340.5H706.5ZM732.3 1272.0H757.3V1340.5H732.3ZM758.1 1277.3H783.1V1340.5H758.1ZM783.9 1286.4H808.9V1340.5H783.9ZM809.7 1312.8H834.7V1340.5H809.7ZM835.4 1310.3H860.4V1340.5H835.4ZM861.2 1298.7H886.2V1340.5H861.2ZM887.0 1253.4H912.0V1340.5H887.0ZM912.8 1294.1H937.8V1340.5H912.8ZM938.6 1309.9H963.6V1340.5H938.6ZM964.3 1310.7H989.3V1340.5H964.3ZM990.1 1258.7H1015.1V1340.5H990.1ZM1015.9 1298.7H1040.9V1340.5H1015.9ZM1041.7 1292.9H1066.7V1340.5H1041.7ZM1067.4 1318.3H1092.4V1340.5H1067.4ZM1093.2 1291.8H1118.2V1340.5H1093.2ZM1119.0 1286.7H1144.0V1340.5H1119.0ZM1144.8 1298.7H1169.8V1340.5H1144.8ZM1170.6 1312.1H1195.6V1340.5H1170.6ZM1196.3 1270.7H1221.3V1340.5H1196.3ZM1222.1 1325.9H1247.1V1340.5H1222.1ZM1273.7 1304.9H1298.7V1340.5H1273.7ZM1299.4 1302.7H1324.4V1340.5H1299.4ZM1325.2 1307.0H1350.2V1340.5H1325.2ZM1351.0 1298.7H1376.0V1340.5H1351.0ZM1376.8 1306.3H1401.8V1340.5H1376.8ZM1402.6 1276.5H1427.6V1340.5H1402.6ZM1428.3 1279.1H1453.3V1340.5H1428.3ZM1454.1 1320.8H1479.1V1340.5H1454.1ZM1479.9 1310.7H1504.9V1340.5H1479.9ZM1505.7 1333.6H1530.7V1340.5H1505.7ZM1583.0 1334.3H1608.0V1340.5H1583.0ZM1608.8 1286.7H1633.8V1340.5H1608.8Z" fill="#3b76e8"/>
<path d="M242.5 1339.8H267.5V1341.0H242.5ZM268.3 1339.8H293.3V1388.7H268.3ZM423.0 1339.8H448.0V1350.4H423.0ZM1247.9 1339.8H1272.9V1363.7H1247.9ZM1531.4 1339.8H1556.4V1393.5H1531.4ZM1557.2 1339.8H1582.2V1349.5H1557.2Z" fill="#e535ab"/>
</svg><div class="abs ax" style="left:1803px;top:165px">260.00</div>
<div class="abs ax" style="left:1803px;top:226px">256.00</div>
<div class="abs ax" style="left:1803px;top:289px">252.00</div>
<div class="abs ax" style="left:1803px;top:352px">248.00</div>
<div class="abs ax" style="left:1803px;top:416px">244.00</div>
<div class="abs ax" style="left:1803px;top:481px">240.00</div>
<div class="abs ax" style="left:1803px;top:548px">236.00</div>
<div class="abs ax" style="left:1803px;top:616px">232.00</div>
<div class="abs ax" style="left:1803px;top:649px">230.00</div>
<div class="abs ax" style="left:1803px;top:684px">228.00</div>
<div class="abs ax" style="left:1803px;top:719px">226.00</div>
<div class="abs ax" style="left:1803px;top:755px">224.00</div>
<div class="abs ax" style="left:1803px;top:790px">222.00</div>
<div class="abs ax" style="left:1803px;top:826px">220.00</div>
<div class="abs ax" style="left:1803px;top:862px">2<b class="o">1</b>8.00</div>
<div class="abs ax" style="left:1803px;top:899px">2<b class="o">1</b>6.00</div>
<div class="abs ax" style="left:1803px;top:935px">2<b class="o">1</b>4.00</div>
<div class="abs ax" style="left:1803px;top:973px">2<b class="o">1</b>2.00</div>
<div class="abs ax" style="left:1803px;top:1009px">2<b class="o">1</b>0.00</div>
<div class="abs ax" style="left:1803px;top:1045px">208.20</div>
<div class="abs ax" style="left:1803px;top:1092px">75 M</div>
<div class="abs ax" style="left:1803px;top:1131px">50 M</div>
<div class="abs ax" style="left:1803px;top:1171px">25 M</div>
<div class="abs ax" style="left:1803px;top:1226px"><b class="o">1</b>50.00</div>
<div class="abs ax" style="left:1803px;top:1260px"><b class="o">1</b>00.00</div>
<div class="abs ax" style="left:1803px;top:1295px">50.00</div>
<div class="abs ax" style="left:1803px;top:1330px">0.00</div>
<div class="abs ax" style="left:1803px;top:1365px">−50.00</div>
<div class="abs ax" style="left:1803px;top:1400px">−<b class="o">1</b>00.00</div>
<div class="abs axx" style="left:95px;top:1420px">24</div>
<div class="abs axx b" style="left:250px;top:1420px">Aug</div>
<div class="abs axx" style="left:353px;top:1420px">7</div>
<div class="abs axx" style="left:456px;top:1420px"><b class="o">1</b>3</div>
<div class="abs axx" style="left:559px;top:1420px"><b class="o">1</b>9</div>
<div class="abs axx" style="left:662px;top:1420px">25</div>
<div class="abs axx b" style="left:791px;top:1420px">Sep</div>
<div class="abs axx" style="left:894px;top:1420px">8</div>
<div class="abs axx" style="left:997px;top:1420px"><b class="o">1</b>2</div>
<div class="abs axx" style="left:1100px;top:1420px"><b class="o">1</b>8</div>
<div class="abs axx" style="left:1203px;top:1420px">24</div>
<div class="abs axx b" style="left:1332px;top:1420px">Oct</div>
<div class="abs axx" style="left:1436px;top:1420px">7</div>
<div class="abs axx" style="left:1539px;top:1420px"><b class="o">1</b>3</div>
<div class="abs axx" style="left:1642px;top:1420px"><b class="o">1</b>7</div>
<div class="abs axx" style="left:1745px;top:1420px">23</div><div class="abs" style="left:72.500px;top:103.500px;width:1562.300px;height:44.200px;background:#cafce4"></div><div class="abs" style="left:76px;top:108px;width:152px;height:27px;background:#dcfcec;border-radius:2px"></div><div class="abs" style="left:82px;top:111px;line-height:21px;font-size:15.5px;color:#444;letter-spacing:.2px;white-space:nowrap">DV - Stage Analysis</div><div class="abs" style="left:317px;top:155px;line-height:24px;font-size:17.5px;color:#444;white-space:nowrap;letter-spacing:.08px">sell 2000 ETF · 1D · IWM</div><div class="abs" style="left:527px;top:157px;line-height:21px;font-size:14.5px;color:#444;white-space:nowrap;word-spacing:4.8px">O250.4<b class="o">1</b> H252.77 L247.07 C250.35 +2.45 (+0.99%) Vol4<b class="o z">1</b>.8<span style="margin-left:-3px"> M</span></div><div class="leg" style="top:184px">EMA<span>249.<b class="o a">1</b>8</span></div><div class="leg" style="top:211px">EMA<span>245.30</span></div><div class="leg" style="top:238px">MA<span style="color:#777">236.7<b class="o">1</b></span></div><div class="leg" style="top:265px">MA<span style="color:#777">2<b class="o">1</b>7.68</span></div><div class="abs" style="left:83px;top:291px;width:32px;height:23px;border:1px solid #e2e2e8;border-radius:3px;background:#fff"></div><svg class="abs" style="left:93px;top:298px" width="12" height="9" viewBox="0 0 12 9" ><path d="M2 6.5L6 2.5L10 6.5" fill="none" stroke="#222" stroke-width="1.8" stroke-linecap="round" stroke-linejoin="round"/></svg><div class="abs" style="left:77px;top:152px;width:242px;height:44px;border-radius:8px;background:#fff;box-shadow:0 2px 6px rgba(60,60,90,.28)"></div><svg class="abs" style="left:86px;top:166px" width="10" height="18" viewBox="0 0 10 18" ><g fill="#d4d4dc"><circle cx="2" cy="2" r="1.2"/><circle cx="7" cy="2" r="1.2"/><circle cx="2" cy="9" r="1.2"/><circle cx="7" cy="9" r="1.2"/><circle cx="2" cy="16" r="1.2"/><circle cx="7" cy="16" r="1.2"/></g></svg><svg class="abs" style="left:111px;top:160px" width="30" height="30" viewBox="0 0 30 30" ><g fill="#fff" stroke="#222" stroke-width="1.6"><path d="M4 4H26V26H4Z" fill="none"/><circle cx="4" cy="4" r="2.3"/><circle cx="26" cy="4" r="2.3"/><circle cx="4" cy="26" r="2.3"/><circle cx="26" cy="26" r="2.3"/></g></svg><svg class="abs" style="left:153px;top:159px" width="30" height="32" viewBox="0 0 30 32" ><g fill="none" stroke="#222" stroke-width="1.5"><path d="M10 3V9M10 23V29M20 1V6M20 19V24"/><rect x="7" y="9" width="6" height="14"/><rect x="17" y="6" width="6" height="13"/><circle cx="3.5" cy="19.5" r="1.8"/><path d="M5.3 19L28 9"/></g></svg><svg class="abs" style="left:199px;top:162px" width="26" height="28" viewBox="0 0 26 28" ><path d="M2.5 3.5H23.5V19.5H9L3 24.5Z" fill="none" stroke="#222" stroke-width="1.6" stroke-linejoin="round"/></svg><svg class="abs" style="left:239px;top:158px" width="32" height="30" viewBox="0 0 32 30" ><g fill="none" stroke="#222" stroke-width="1.6" stroke-linejoin="round"><path d="M17 3L4.5 18.5L13.5 26L29 17"/><path d="M7.5 14.8L17.5 22.5"/><path d="M4.5 18.5L2.5 24.5L11 27.5L13.5 26"/></g></svg><svg class="abs" style="left:282px;top:160px" width="32" height="30" viewBox="0 0 32 30" ><g fill="#fff" stroke="#222" stroke-width="1.6"><path d="M5.5 24.5L26.5 5.5"/><circle cx="4.5" cy="25.5" r="2.4"/><circle cx="27.5" cy="4.5" r="2.4"/></g></svg><div class="abs" style="left:1754px;top:316px;width:40px;height:19px;background:#000;border-radius:2px;color:#fff;font-size:13.5px;line-height:19px;text-align:center;letter-spacing:.3px">IWM</div><div class="abs" style="left:1074px;top:1045px;font-size:13px;font-weight:bold;color:#3d74e6;line-height:18px">D</div><div class="leg" style="top:1080px">Volume<span style="color:#444;word-spacing:-.5px;margin-left:10px">4<b class="o z">1</b>.8 M&nbsp; 38.28 M</span></div><div class="leg" style="top:1231px;letter-spacing:.68px">DV - Net New Highs/Lows<span style="color:#6a96ef;letter-spacing:.3px">77.00</span></div><div class="abs" style="left:1796px;top:1413.500px;width:69px;height:7px;background:#fff"></div><svg class="abs" style="left:1820.5px;top:1420px" width="20" height="18" viewBox="0 0 20 18" ><g fill="none" stroke="#444" stroke-width="1.5" stroke-linejoin="round"><path d="M6.200 2.200H13.800L18 9.100L13.800 16H6.200L2 9.100Z"/><circle cx="10" cy="9.100" r="2.300"/></g></svg></div><style>
#rp{position:absolute;left:1866px;top:56px;width:694px;height:1387px;background:#fff;border-left:2px solid #d9dcf4}
.ph{position:absolute;left:0;width:692px;background:#ecedfb}
.pt{position:absolute;font-size:14.5px;font-weight:normal;-webkit-text-stroke:.42px #787c95;color:#787c95;letter-spacing:.45px;white-space:nowrap;line-height:20px}
.bsq{position:absolute;width:16px;height:16px;border-radius:2.5px;background:#3570e3}
.cb{position:absolute;left:19px;width:18.5px;height:18.5px;border:1px solid #c3cbf3;border-radius:4.5px;background:#fff}
.hl .cb{background:#dde6fc}
.th{position:absolute;font-size:13.5px;font-weight:normal;-webkit-text-stroke:.45px currentColor;color:#6c7089;line-height:15.6px;white-space:nowrap;letter-spacing:1.05px}
.vd{position:absolute;width:0;border-left:1px dotted #dddbea}
.row{position:absolute;left:0;width:692px;height:36.2px;border-bottom:1px dotted #e6e6ee}
.row.hl{background:#dde6fc;border-bottom-color:#dde6fc}
.lb{position:absolute;left:0;top:0;width:3.5px;height:100%}
.ib{position:absolute;left:54.5px;top:5.5px;width:25px;height:25px;border-radius:6.5px;border:1px solid #eceef8;background:#fff;overflow:hidden}
.hl .ib{background:#dde6fc;border-color:#d3dcf6}
.sy{position:absolute;left:92.5px;top:9.3px;font-size:13.5px;font-weight:bold;color:#33374f;line-height:18px;letter-spacing:.1px;white-space:nowrap}
.v{position:absolute;top:11px;font-size:14px;line-height:18px;text-align:right;white-space:nowrap;letter-spacing:-.05px;-webkit-text-stroke:.22px currentColor}
.ft{position:absolute;left:11px;font-size:11.5px;font-weight:normal;-webkit-text-stroke:.4px #70748c;color:#70748c;letter-spacing:.85px;white-space:nowrap;line-height:14px}
.ind{position:absolute;left:589px;top:8.5px;font-size:14.5px;line-height:18px;white-space:nowrap;letter-spacing:.75px}
.trow{position:absolute;left:0;width:600px;height:24.9px}
.trow i{position:absolute;left:8px;right:-10px;bottom:0;border-bottom:1px dotted #e9e9f1}
.tb{position:absolute;left:106.3px;top:3px;height:17.5px;background:#3b76e8;border-radius:1.5px}
.tl{position:absolute;top:4.6px;font-size:12px;font-weight:bold;color:#4a7ee8;line-height:14px;letter-spacing:.2px;white-space:nowrap}
.ts{position:absolute;left:46.5px;top:3.5px;font-size:13.5px;font-weight:bold;color:#33374f;line-height:18px;letter-spacing:0;white-space:nowrap}
.tib{position:absolute;left:10px;top:3.5px;width:19px;height:19px;border-radius:5px;border:1px solid #eceef8;background:#fff}
</style><div id="rp"><div class="ph" style="top:0;height:42.5px"></div><svg class="abs" style="left:8px;top:12px" width="16" height="16" viewBox="0 0 16 16" ><path d="M8 1.6l1.9 4 4.3.55-3.15 3 .8 4.3L8 11.3l-3.85 2.15.8-4.3-3.15-3 4.3-.55z" fill="none" stroke="#5d6180" stroke-width="1.5" stroke-linejoin="round"/></svg><div class="pt" style="left:34px;top:10.5px;letter-spacing:.05px">Index ETFs</div><div class="bsq" style="left:670px;top:13.5px"></div><div class="cb" style="top:53.0px"></div><div class="th" style="left:54px;top:54.5px">Symbol</div><svg class="abs" style="left:116px;top:55.0px" width="14" height="14" viewBox="0 0 14 14" ><path d="M7 1V13M1 7H13" stroke="#5d6180" stroke-width="1.5" fill="none"/></svg><div class="abs" style="left:143px;top:54.5px;width:16.5px;height:16.5px;border-radius:9px;background:#3570e3;color:#fff;font-size:10.5px;font-weight:bold;text-align:center;line-height:16.5px">1</div><div class="th" style="left:163px;top:46.5px;color:#4a7ee8">% Change<br>- Today</div><svg class="abs" style="left:248px;top:55.5px" width="8" height="13" viewBox="0 0 8 13" ><path d="M4 0.5L7.3 5H0.7Z" fill="#c9d6f8"/><path d="M4 12L7.3 7.5H0.7Z" fill="#3d74e6"/></svg><div class="th" style="left:268px;top:46.5px">Run<br>Rate<span class="el">…</span></div><div class="th" style="left:334.5px;top:46.5px">% Change -<br>From Open</div><div class="th" style="left:441.5px;top:46.5px">Post<br>Market <span class="el">…</span></div><div class="th" style="left:549px;top:54.5px;letter-spacing:.8px">DCR</div><div class="th" style="left:589.5px;top:54.5px;width:30px;overflow:hidden">Indu</div><div class="abs" style="left:640px;top:53.0px;font-size:10px;color:#5d6180;line-height:12px">1</div><svg class="abs" style="left:663.5px;top:52.5px" width="17" height="17" viewBox="0 0 16 16" ><g fill="none" stroke="#5d6180" stroke-width="1.4" stroke-linejoin="round"><path d="M6.6 1.2h2.8l.5 1.9 1.4.8 1.9-.55 1.4 2.4-1.4 1.4v1.7l1.4 1.4-1.4 2.4-1.9-.55-1.4.8-.5 1.9H6.6l-.5-1.9-1.4-.8-1.9.55-1.4-2.4 1.4-1.4V7.15L1.4 5.75l1.4-2.4 1.9.55 1.4-.8z"/><circle cx="8" cy="8" r="2.3"/></g></svg><div class="vd" style="left:136px;top:44.5px;height:35px"></div><div class="vd" style="left:260.5px;top:44.5px;height:35px"></div><div class="vd" style="left:327px;top:44.5px;height:35px"></div><div class="vd" style="left:434.5px;top:44.5px;height:35px"></div><div class="vd" style="left:514.5px;top:44.5px;height:35px"></div><div class="vd" style="left:582.5px;top:44.5px;height:35px"></div><div class="row" style="top:81.3px"><div class="cb" style="top:8.5px"></div><div class="ib"><svg class="abs" style="left:5.5px;top:5px" width="13.5" height="13.5" viewBox="0 0 16 16" ><path d="M1.2 1.6C0.6 0.9 1.2 0.3 2 0.7L14.3 6.6C15.2 7 15.2 7.9 14.3 8.4L3.4 14.6C2.6 15.1 1.9 14.7 2 13.8Z" fill="#2f7bf0"/><path d="M1.2 1.6L2 13.8C1.9 14.7 2.6 15.1 3.4 14.6L6.8 8Z" fill="#5aa0f8"/></svg></div><div class="sy">IWO</div><div class="v" style="right:436.5px;color:#4a7ee8"><b class="o z">1</b>.32%</div><div class="v" style="right:368.5px;color:#9b9eb5"><b class="o">1</b>3<b class="o z">1</b>.76%</div><div class="v" style="right:262.5px;color:#4a7ee8">0.08%</div><div class="v" style="right:182.5px;color:#2b2e45">-</div><div class="v" style="right:114.5px;top:9.5px;color:#4a7ee8">66%</div><div class="ind" style="color:#4a7ee8">-</div></div><div class="row hl" style="top:117.5px"><div class="lb" style="background:#9b30ec"></div><div class="cb" style="top:8.5px"></div><div class="ib"><svg class="abs" style="left:5.5px;top:5px" width="13.5" height="13.5" viewBox="0 0 16 16" ><path d="M1.2 1.6C0.6 0.9 1.2 0.3 2 0.7L14.3 6.6C15.2 7 15.2 7.9 14.3 8.4L3.4 14.6C2.6 15.1 1.9 14.7 2 13.8Z" fill="#2f7bf0"/><path d="M1.2 1.6L2 13.8C1.9 14.7 2.6 15.1 3.4 14.6L6.8 8Z" fill="#5aa0f8"/></svg></div><div class="sy">IWM</div><div class="v" style="right:436.5px;color:#4a7ee8">0.99%</div><div class="v" style="right:368.5px;color:#9b9eb5"><b class="o">1</b><b class="o">1</b>5.<b class="o a">1</b><b class="o">1</b>%</div><div class="v" style="right:262.5px;color:#e83fae">-0.02%</div><div class="v" style="right:182.5px;color:#e83fae">-0.02%</div><div class="v" style="right:114.5px;top:9.5px;color:#4a7ee8">59%</div><div class="ind" style="color:#4a7ee8">-</div></div><div class="row" style="top:153.7px"><div class="cb" style="top:8.5px"></div><div class="ib"><svg class="abs" style="left:5.5px;top:5px" width="13.5" height="13.5" viewBox="0 0 16 16" ><path d="M1.2 1.6C0.6 0.9 1.2 0.3 2 0.7L14.3 6.6C15.2 7 15.2 7.9 14.3 8.4L3.4 14.6C2.6 15.1 1.9 14.7 2 13.8Z" fill="#2f7bf0"/><path d="M1.2 1.6L2 13.8C1.9 14.7 2.6 15.1 3.4 14.6L6.8 8Z" fill="#5aa0f8"/></svg></div><div class="sy">QQQ</div><div class="v" style="right:436.5px;color:#4a7ee8">0.70%</div><div class="v" style="right:368.5px;color:#9b9eb5"><b class="o">1</b><b class="o">1</b><b class="o z">1</b>.62%</div><div class="v" style="right:262.5px;color:#e83fae">-0.3<b class="o">1</b>%</div><div class="v" style="right:182.5px;color:#4a7ee8">0.06%</div><div class="v" style="right:114.5px;top:9.5px;color:#4a7ee8">58%</div><div class="ind" style="color:#4a7ee8">-</div></div><div class="row" style="top:189.9px"><div class="cb" style="top:8.5px"></div><div class="ib"><svg class="abs" style="left:5.5px;top:5px" width="13.5" height="13.5" viewBox="0 0 16 16" ><path d="M1.2 1.6C0.6 0.9 1.2 0.3 2 0.7L14.3 6.6C15.2 7 15.2 7.9 14.3 8.4L3.4 14.6C2.6 15.1 1.9 14.7 2 13.8Z" fill="#2f7bf0"/><path d="M1.2 1.6L2 13.8C1.9 14.7 2.6 15.1 3.4 14.6L6.8 8Z" fill="#5aa0f8"/></svg></div><div class="sy">SPY</div><div class="v" style="right:436.5px;color:#4a7ee8">0.43%</div><div class="v" style="right:368.5px;color:#9b9eb5"><b class="o">1</b>05.87%</div><div class="v" style="right:262.5px;color:#e83fae">-0.26%</div><div class="v" style="right:182.5px;color:#e83fae">0.00%</div><div class="v" style="right:114.5px;top:9.5px;color:#4a7ee8">55%</div><div class="ind" style="color:#4a7ee8">-</div></div><div class="row" style="top:226.10000000000002px"><div class="cb" style="top:8.5px"></div><div class="ib"><svg class="abs" style="left:5.5px;top:5px" width="13.5" height="13.5" viewBox="0 0 16 16" ><path d="M1.2 1.6C0.6 0.9 1.2 0.3 2 0.7L14.3 6.6C15.2 7 15.2 7.9 14.3 8.4L3.4 14.6C2.6 15.1 1.9 14.7 2 13.8Z" fill="#2f7bf0"/><path d="M1.2 1.6L2 13.8C1.9 14.7 2.6 15.1 3.4 14.6L6.8 8Z" fill="#5aa0f8"/></svg></div><div class="sy">QQQE</div><div class="v" style="right:436.5px;color:#4a7ee8">0.34%</div><div class="v" style="right:368.5px;color:#9b9eb5"><b class="o">1</b>45.74%</div><div class="v" style="right:262.5px;color:#e83fae">-0.54%</div><div class="v" style="right:182.5px;color:#2b2e45">-</div><div class="v" style="right:114.5px;top:9.5px;color:#4a7ee8">54%</div><div class="ind" style="color:#4a7ee8">-</div></div><div class="row" style="top:262.3px"><div class="cb" style="top:8.5px"></div><div class="ib"><svg class="abs" style="left:5.5px;top:5px" width="13.5" height="13.5" viewBox="0 0 16 16" ><path d="M1.2 1.6C0.6 0.9 1.2 0.3 2 0.7L14.3 6.6C15.2 7 15.2 7.9 14.3 8.4L3.4 14.6C2.6 15.1 1.9 14.7 2 13.8Z" fill="#2f7bf0"/><path d="M1.2 1.6L2 13.8C1.9 14.7 2.6 15.1 3.4 14.6L6.8 8Z" fill="#5aa0f8"/></svg></div><div class="sy">MDY</div><div class="v" style="right:436.5px;color:#4a7ee8">0.09%</div><div class="v" style="right:368.5px;color:#9b9eb5">76.98%</div><div class="v" style="right:262.5px;color:#e83fae">-0.56%</div><div class="v" style="right:182.5px;color:#e83fae">0.00%</div><div class="v" style="right:114.5px;top:9.5px;color:#e83fae">45%</div><div class="ind" style="color:#4a7ee8">-</div></div><div class="row" style="top:298.5px"><div class="cb" style="top:8.5px"></div><div class="ib"><svg class="abs" style="left:5.5px;top:5px" width="13.5" height="13.5" viewBox="0 0 16 16" ><path d="M1.2 1.6C0.6 0.9 1.2 0.3 2 0.7L14.3 6.6C15.2 7 15.2 7.9 14.3 8.4L3.4 14.6C2.6 15.1 1.9 14.7 2 13.8Z" fill="#2f7bf0"/><path d="M1.2 1.6L2 13.8C1.9 14.7 2.6 15.1 3.4 14.6L6.8 8Z" fill="#5aa0f8"/></svg></div><div class="sy">TLT</div><div class="v" style="right:436.5px;color:#e83fae">-0.23%</div><div class="v" style="right:368.5px;color:#9b9eb5"><b class="o">1</b>07.00%</div><div class="v" style="right:262.5px;color:#e83fae">-0.34%</div><div class="v" style="right:182.5px;color:#4a7ee8">0.<b class="o a">1</b>4%</div><div class="v" style="right:114.5px;top:9.5px;color:#e83fae">23%</div><div class="ind" style="color:#4a7ee8">-</div></div><div class="row" style="top:334.70000000000005px"><div class="cb" style="top:8.5px"></div><div class="ib"><svg class="abs" style="left:5.5px;top:5px" width="13.5" height="13.5" viewBox="0 0 16 16" ><path d="M1.2 1.6C0.6 0.9 1.2 0.3 2 0.7L14.3 6.6C15.2 7 15.2 7.9 14.3 8.4L3.4 14.6C2.6 15.1 1.9 14.7 2 13.8Z" fill="#2f7bf0"/><path d="M1.2 1.6L2 13.8C1.9 14.7 2.6 15.1 3.4 14.6L6.8 8Z" fill="#5aa0f8"/></svg></div><div class="sy">UUP</div><div class="v" style="right:436.5px;color:#e83fae">-0.30%</div><div class="v" style="right:368.5px;color:#9b9eb5"><b class="o">1</b><b class="o">1</b>6.33%</div><div class="v" style="right:262.5px;color:#e83fae">-0.20%</div><div class="v" style="right:182.5px;color:#e83fae">-0.05%</div><div class="v" style="right:114.5px;top:9.5px;color:#e83fae">28%</div><div class="ind" style="color:#4a7ee8">-</div></div><div class="row" style="top:370.90000000000003px"><div class="lb" style="background:#9b30ec"></div><div class="cb" style="top:8.5px"></div><div class="ib"><svg class="abs" style="left:5.5px;top:5px" width="13.5" height="13.5" viewBox="0 0 16 16" ><path d="M1.2 1.6C0.6 0.9 1.2 0.3 2 0.7L14.3 6.6C15.2 7 15.2 7.9 14.3 8.4L3.4 14.6C2.6 15.1 1.9 14.7 2 13.8Z" fill="#2f7bf0"/><path d="M1.2 1.6L2 13.8C1.9 14.7 2.6 15.1 3.4 14.6L6.8 8Z" fill="#5aa0f8"/></svg></div><div class="sy">IBIT</div><div class="v" style="right:436.5px;color:#e83fae">-<b class="o z">1</b>.<b class="o a">1</b>7%</div><div class="v" style="right:368.5px;color:#9b9eb5">86.02%</div><div class="v" style="right:262.5px;color:#e83fae">-0.2<b class="o">1</b>%</div><div class="v" style="right:182.5px;color:#e83fae">-0.47%</div><div class="v" style="right:114.5px;top:9.5px;color:#4a7ee8">53%</div><div class="ind" style="color:#4a7ee8">-</div></div><div class="ft" style="top:484px">2 of 9 results (0 selected)</div><div class="abs" style="left:0;top:500px;width:692px;height:1.5px;background:#d9dcf4"></div><div class="ph" style="top:501.5px;height:42.5px"></div><svg class="abs" style="left:8px;top:514.5px" width="16" height="16" viewBox="0 0 16 16" ><path d="M8 1.6l1.9 4 4.3.55-3.15 3 .8 4.3L8 11.3l-3.85 2.15.8-4.3-3.15-3 4.3-.55z" fill="none" stroke="#5d6180" stroke-width="1.5" stroke-linejoin="round"/></svg><div class="pt" style="left:34px;top:513px">Liquid Mega Cap</div><div class="bsq" style="left:670px;top:515.5px"></div><div class="cb" style="top:555.0px"></div><div class="th" style="left:54px;top:556.5px">Symbol</div><svg class="abs" style="left:116px;top:557.0px" width="14" height="14" viewBox="0 0 14 14" ><path d="M7 1V13M1 7H13" stroke="#5d6180" stroke-width="1.5" fill="none"/></svg><div class="abs" style="left:143px;top:556.5px;width:16.5px;height:16.5px;border-radius:9px;background:#3570e3;color:#fff;font-size:10.5px;font-weight:bold;text-align:center;line-height:16.5px">1</div><div class="th" style="left:163px;top:548.5px;color:#4a7ee8">% Change<br>- Today</div><svg class="abs" style="left:248px;top:557.5px" width="8" height="13" viewBox="0 0 8 13" ><path d="M4 0.5L7.3 5H0.7Z" fill="#c9d6f8"/><path d="M4 12L7.3 7.5H0.7Z" fill="#3d74e6"/></svg><div class="th" style="left:268px;top:548.5px">Run<br>Rate<span class="el">…</span></div><div class="th" style="left:334.5px;top:548.5px">% Change -<br>From Open</div><div class="th" style="left:441.5px;top:548.5px">Post<br>Market <span class="el">…</span></div><div class="th" style="left:549px;top:556.5px;letter-spacing:.8px">DCR</div><div class="th" style="left:589.5px;top:556.5px;width:30px;overflow:hidden">Indu</div><div class="abs" style="left:640px;top:555.0px;font-size:10px;color:#5d6180;line-height:12px">1</div><svg class="abs" style="left:663.5px;top:554.5px" width="17" height="17" viewBox="0 0 16 16" ><g fill="none" stroke="#5d6180" stroke-width="1.4" stroke-linejoin="round"><path d="M6.6 1.2h2.8l.5 1.9 1.4.8 1.9-.55 1.4 2.4-1.4 1.4v1.7l1.4 1.4-1.4 2.4-1.9-.55-1.4.8-.5 1.9H6.6l-.5-1.9-1.4-.8-1.9.55-1.4-2.4 1.4-1.4V7.15L1.4 5.75l1.4-2.4 1.9.55 1.4-.8z"/><circle cx="8" cy="8" r="2.3"/></g></svg><div class="vd" style="left:136px;top:546.5px;height:35px"></div><div class="vd" style="left:260.5px;top:546.5px;height:35px"></div><div class="vd" style="left:327px;top:546.5px;height:35px"></div><div class="vd" style="left:434.5px;top:546.5px;height:35px"></div><div class="vd" style="left:514.5px;top:546.5px;height:35px"></div><div class="vd" style="left:582.5px;top:546.5px;height:35px"></div><div class="row" style="top:583.3px"><div class="cb" style="top:8.5px"></div><div class="ib"><div style="position:absolute;left:0;top:9px;width:23px;text-align:center;font-size:4px;font-weight:bold;color:#e5463e;line-height:5px">Alphabet</div></div><div class="sy">GOO<span class="el">…</span></div><div class="v" style="right:436.5px;color:#4a7ee8">2.29%</div><div class="v" style="right:368.5px;color:#9b9eb5">87.95%</div><div class="v" style="right:262.5px;color:#4a7ee8"><b class="o z">1</b>.54%</div><div class="v" style="right:182.5px;color:#e83fae">-0.<b class="o a">1</b>3%</div><div class="v" style="right:114.5px;top:9.5px;color:#4a7ee8">86%</div><div class="ind" style="color:#4a7ee8">Interactive Med</div></div><div class="row hl" style="top:619.5px"><div class="lb" style="background:#f59e0b"></div><div class="cb" style="top:8.5px"></div><div class="ib" style="background:#e31937;border-color:#e31937;"><svg class="abs" style="left:5px;top:4.5px" width="13" height="14" viewBox="0 0 13 14" ><path d="M6.5 13.5L5.2 4.2H3.6C3.6 3.3 4 2.9 4.6 2.9H8.4C9 2.9 9.4 3.3 9.4 4.2H7.8Z" fill="#fff"/><path d="M1 2.3C3.5 .6 9.5 .6 12 2.3L11.3 3.2C9 2 4 2 1.7 3.2Z" fill="#fff"/></svg></div><div class="sy">TSLA</div><div class="v" style="right:436.5px;color:#4a7ee8"><b class="o z">1</b>.39%</div><div class="v" style="right:368.5px;color:#9b9eb5">79.67%</div><div class="v" style="right:262.5px;color:#4a7ee8">0.09%</div><div class="v" style="right:182.5px;color:#e83fae">-0.<b class="o a">1</b>8%</div><div class="v" style="right:114.5px;top:9.5px;color:#4a7ee8">64%</div><div class="ind" style="color:#2b2e45">Automobiles</div></div><div class="row" style="top:655.6999999999999px"><div class="lb" style="background:#3b76e8"></div><div class="cb" style="top:8.5px"></div><div class="ib"><svg class="abs" style="left:3px;top:7px" width="17" height="10" viewBox="0 0 17 10" ><path d="M1.5 6.5C1.5 3 3.2 1.2 4.7 1.2C7.5 1.2 9.5 8.8 12.3 8.8C13.8 8.8 15.5 7.5 15.5 5C15.5 2.8 14 1.2 12.3 1.2C9.5 1.2 7.5 8.8 4.7 8.8C3 8.8 1.5 8 1.5 6.5Z" fill="none" stroke="#1f6ff0" stroke-width="1.9"/></svg></div><div class="sy">META</div><div class="v" style="right:436.5px;color:#4a7ee8"><b class="o z">1</b>.29%</div><div class="v" style="right:368.5px;color:#9b9eb5">74.02%</div><div class="v" style="right:262.5px;color:#4a7ee8">0.<b class="o a">1</b><b class="o">1</b>%</div><div class="v" style="right:182.5px;color:#e83fae">-0.04%</div><div class="v" style="right:114.5px;top:9.5px;color:#4a7ee8">59%</div><div class="ind" style="color:#4a7ee8">Interactive Med</div></div><div class="row" style="top:691.9px"><div class="cb" style="top:8.5px"></div><div class="ib" style="background:#000;border-color:#000;"><svg class="abs" style="left:6px;top:3.5px" width="11" height="15" viewBox="0 0 11 15" ><path d="M7.9 3.6C8.5 2.9 8.9 1.9 8.8 1C7.9 1 6.9 1.6 6.3 2.3C5.8 2.9 5.3 3.9 5.5 4.8C6.4 4.9 7.3 4.3 7.9 3.6ZM8.8 5C7.5 4.9 6.4 5.7 5.8 5.7C5.2 5.7 4.2 5 3.2 5.1C1.9 5.1.7 5.8.1 7C-1.2 9.3-.3 12.700 1 14.500C1.600 15.400 2.300 16.400 3.300 16.400C4.200 16.300 4.600 15.800 5.700 15.800C6.800 15.800 7.100 16.400 8.100 16.400C9.100 16.400 9.800 15.500 10.400 14.600C11.100 13.500 11.400 12.500 11.400 12.500C11.400 12.400 9.400 11.700 9.400 9.400C9.400 7.500 11 6.600 11 6.500C10.200 5.300 8.800 5 8.800 5Z" fill="#fff" transform="scale(.82) translate(1.2,0.6)"/></svg></div><div class="sy">AAPL</div><div class="v" style="right:436.5px;color:#4a7ee8">0.67%</div><div class="v" style="right:368.5px;color:#9b9eb5">60.97%</div><div class="v" style="right:262.5px;color:#4a7ee8">0.02%</div><div class="v" style="right:182.5px;color:#e83fae">-0.<b class="o a">1</b>4%</div><div class="v" style="right:114.5px;top:9.5px;color:#e83fae">45%</div><div class="ind" style="color:#2b2e45">Technology Har</div></div><div class="row" style="top:728.0999999999999px"><div class="lb" style="background:#3b76e8"></div><div class="cb" style="top:8.5px"></div><div class="ib" style="background:#0b0b0b;border-color:#0b0b0b;"><svg class="abs" style="left:5px;top:5px" width="13" height="13" viewBox="0 0 13 13" ><rect x="0" y="0" width="6" height="6" fill="#f25022"/><rect x="7" y="0" width="6" height="6" fill="#7fba00"/><rect x="0" y="7" width="6" height="6" fill="#00a4ef"/><rect x="7" y="7" width="6" height="6" fill="#ffb900"/></svg></div><div class="sy">MSFT</div><div class="v" style="right:436.5px;color:#4a7ee8">0.03%</div><div class="v" style="right:368.5px;color:#9b9eb5">78.09%</div><div class="v" style="right:262.5px;color:#e83fae">-0.<b class="o a">1</b>6%</div><div class="v" style="right:182.5px;color:#e83fae">-0.<b class="o a">1</b>0%</div><div class="v" style="right:114.5px;top:9.5px;color:#4a7ee8">53%</div><div class="ind" style="color:#2b2e45">Software</div></div><div class="row" style="top:764.3px"><div class="lb" style="background:#3b76e8"></div><div class="cb" style="top:8.5px"></div><div class="ib" style="background:#6fa016;border-color:#6fa016;"><svg class="abs" style="left:4px;top:5px" width="15" height="12" viewBox="0 0 15 12" ><path d="M1 5.5C3 2.5 6 1.5 8.5 2.5C10.500 3.300 12 4.800 12.800 6C11.500 7.800 9.500 9 7.500 9C4.500 9 2 7.500 1 5.500ZM4 5.500C4.800 7 6 7.500 7.500 7.500C8.800 7.500 10 6.800 10.800 6C10 5 8.800 4 7.500 4C6 4 4.800 4.500 4 5.500Z" fill="#fff" fill-opacity=".9"/><rect x="3" y="10" width="9" height="1.4" fill="#fff" fill-opacity=".75"/></svg><div style="position:absolute;left:0;bottom:0;width:100%;height:4px;background:#3f6a0a;opacity:.55"></div></div><div class="sy">NVDA</div><div class="v" style="right:436.5px;color:#e83fae">-0.09%</div><div class="v" style="right:368.5px;color:#9b9eb5"><b class="o">1</b><b class="o">1</b>6.64%</div><div class="v" style="right:262.5px;color:#e83fae">-2.69%</div><div class="v" style="right:182.5px;color:#4a7ee8">0.53%</div><div class="v" style="right:114.5px;top:9.5px;color:#e83fae">34%</div><div class="ind" style="color:#2b2e45">Semiconductors</div></div><div class="row" style="top:800.5px"><div class="lb" style="background:#3b76e8"></div><div class="cb" style="top:8.5px"></div><div class="ib" style="background:#ff6a00;border-color:#ff6a00;"><svg class="abs" style="left:4px;top:9px" width="15" height="7" viewBox="0 0 15 7" ><path d="M1 1.500C4.500 4.800 10.500 4.800 14 1.500" fill="none" stroke="#fff" stroke-width="1.6" stroke-linecap="round"/><path d="M11.800 1L14.300 1.200L13.300 3.500" fill="none" stroke="#fff" stroke-width="1.1"/></svg></div><div class="sy">AMZN</div><div class="v" style="right:436.5px;color:#e83fae">-0.35%</div><div class="v" style="right:368.5px;color:#9b9eb5"><b class="o">1</b>0<b class="o z">1</b>.35%</div><div class="v" style="right:262.5px;color:#e83fae">-0.49%</div><div class="v" style="right:182.5px;color:#e83fae">-0.06%</div><div class="v" style="right:114.5px;top:9.5px;color:#4a7ee8">60%</div><div class="ind" style="color:#2b2e45">Broadline Retail</div></div><div class="ft" style="top:947px">2 of 7 results (0 selected)</div><div class="abs" style="left:0;top:963.5px;width:692px;height:1.5px;background:#d9dcf4"></div><div class="abs" style="left:690.700px;top:0;width:1.300px;height:965px;background:#cdd4ea"></div><div class="abs" style="left:622px;top:965px;width:70px;height:422px;background:#ebe6f8"></div><div class="ph" style="top:965px;height:39.5px;width:622px"></div><svg class="abs" style="left:10px;top:977px" width="14" height="14" viewBox="0 0 14 14" ><path d="M2 1.500V12.500M2 2H11M2 5.500H7.500M2 9H9.500M2 12.500H6.500" fill="none" stroke="#70748c" stroke-width="1.5"/></svg><div class="pt" style="left:35px;top:975px;letter-spacing:0">Theme ETFs</div><svg class="abs" style="left:142px;top:980px" width="16" height="9" viewBox="0 0 16 9" ><path d="M1 1V8M15 1V8M1 4.500H15M3.500 2.500L1.500 4.500L3.500 6.500M12.500 2.500L14.500 4.500L12.500 6.500" fill="none" stroke="#70748c" stroke-width="1.2"/></svg><div class="pt" style="left:167px;top:975px;letter-spacing:.35px">Price % Change from Open</div><svg class="abs" style="left:376px;top:979px" width="8" height="12" viewBox="0 0 8 12" ><path d="M4 0.500L7 4.500H1Z" fill="#9db7f3"/><path d="M4 11.500L7 7.500H1Z" fill="#3d74e6"/></svg><svg class="abs" style="left:576px;top:980px" width="4" height="12" viewBox="0 0 4 12" ><g fill="#8a8ea8"><circle cx="2" cy="2" r="1"/><circle cx="2" cy="6" r="1"/><circle cx="2" cy="10" r="1"/></g></svg><div class="bsq" style="left:601px;top:978.5px"></div><div class="abs" style="left:0;top:1004.5px;width:622px;height:358.5px;overflow:hidden"><div class="trow" style="top:0.0px"><i></i><div class="tib"><svg class="abs" style="left:3.5px;top:3px" width="11.5" height="11.5" viewBox="0 0 16 16" ><path d="M1.2 1.6C0.6 0.9 1.2 0.3 2 0.7L14.3 6.6C15.2 7 15.2 7.9 14.3 8.4L3.4 14.6C2.6 15.1 1.9 14.7 2 13.8Z" fill="#2f7bf0"/><path d="M1.2 1.6L2 13.8C1.9 14.7 2.6 15.1 3.4 14.6L6.8 8Z" fill="#5aa0f8"/></svg></div><div class="ts">ARKG</div><div class="tb" style="width:443.7px"></div><div class="tl" style="left:554.5px">+4.25%</div></div><div class="trow" style="top:24.9px"><i></i><div class="tib"><svg class="abs" style="left:3.5px;top:3px" width="11.5" height="11.5" viewBox="0 0 16 16" ><path d="M1.2 1.6C0.6 0.9 1.2 0.3 2 0.7L14.3 6.6C15.2 7 15.2 7.9 14.3 8.4L3.4 14.6C2.6 15.1 1.9 14.7 2 13.8Z" fill="#2f7bf0"/><path d="M1.2 1.6L2 13.8C1.9 14.7 2.6 15.1 3.4 14.6L6.8 8Z" fill="#5aa0f8"/></svg></div><div class="ts">GDXJ</div><div class="tb" style="width:271.4px"></div><div class="tl" style="left:382.2px">+2.60%</div></div><div class="trow" style="top:49.8px"><i></i><div class="tib"><svg class="abs" style="left:3.5px;top:3px" width="11.5" height="11.5" viewBox="0 0 16 16" ><path d="M1.2 1.6C0.6 0.9 1.2 0.3 2 0.7L14.3 6.6C15.2 7 15.2 7.9 14.3 8.4L3.4 14.6C2.6 15.1 1.9 14.7 2 13.8Z" fill="#2f7bf0"/><path d="M1.2 1.6L2 13.8C1.9 14.7 2.6 15.1 3.4 14.6L6.8 8Z" fill="#5aa0f8"/></svg></div><div class="ts">GDX</div><div class="tb" style="width:248.5px"></div><div class="tl" style="left:359.3px">+2.38%</div></div><div class="trow" style="top:74.69999999999999px"><i></i><div class="tib"><svg class="abs" style="left:3.5px;top:3px" width="11.5" height="11.5" viewBox="0 0 16 16" ><path d="M1.2 1.6C0.6 0.9 1.2 0.3 2 0.7L14.3 6.6C15.2 7 15.2 7.9 14.3 8.4L3.4 14.6C2.6 15.1 1.9 14.7 2 13.8Z" fill="#2f7bf0"/><path d="M1.2 1.6L2 13.8C1.9 14.7 2.6 15.1 3.4 14.6L6.8 8Z" fill="#5aa0f8"/></svg></div><div class="ts">IDNA</div><div class="tb" style="width:233.9px"></div><div class="tl" style="left:344.7px">+2.24%</div></div><div class="trow" style="top:99.6px"><i></i><div class="tib"><svg class="abs" style="left:3.5px;top:3px" width="11.5" height="11.5" viewBox="0 0 16 16" ><path d="M1.2 1.6C0.6 0.9 1.2 0.3 2 0.7L14.3 6.6C15.2 7 15.2 7.9 14.3 8.4L3.4 14.6C2.6 15.1 1.9 14.7 2 13.8Z" fill="#2f7bf0"/><path d="M1.2 1.6L2 13.8C1.9 14.7 2.6 15.1 3.4 14.6L6.8 8Z" fill="#5aa0f8"/></svg></div><div class="ts">IBB</div><div class="tb" style="width:152.4px"></div><div class="tl" style="left:263.2px">+1.46%</div></div><div class="trow" style="top:124.5px"><i></i><div class="tib"><svg class="abs" style="left:3.5px;top:3px" width="11.5" height="11.5" viewBox="0 0 16 16" ><path d="M1.2 1.6C0.6 0.9 1.2 0.3 2 0.7L14.3 6.6C15.2 7 15.2 7.9 14.3 8.4L3.4 14.6C2.6 15.1 1.9 14.7 2 13.8Z" fill="#2f7bf0"/><path d="M1.2 1.6L2 13.8C1.9 14.7 2.6 15.1 3.4 14.6L6.8 8Z" fill="#5aa0f8"/></svg></div><div class="ts">SLV</div><div class="tb" style="width:133.6px"></div><div class="tl" style="left:244.4px">+1.28%</div></div><div class="trow" style="top:149.39999999999998px"><i></i><div class="tib"><svg class="abs" style="left:3.5px;top:3px" width="11.5" height="11.5" viewBox="0 0 16 16" ><path d="M1.2 1.6C0.6 0.9 1.2 0.3 2 0.7L14.3 6.6C15.2 7 15.2 7.9 14.3 8.4L3.4 14.6C2.6 15.1 1.9 14.7 2 13.8Z" fill="#2f7bf0"/><path d="M1.2 1.6L2 13.8C1.9 14.7 2.6 15.1 3.4 14.6L6.8 8Z" fill="#5aa0f8"/></svg></div><div class="ts">TAN</div><div class="tb" style="width:119.0px"></div><div class="tl" style="left:229.8px">+1.14%</div></div><div class="trow" style="top:174.29999999999998px"><i></i><div class="tib"><svg class="abs" style="left:3.5px;top:3px" width="11.5" height="11.5" viewBox="0 0 16 16" ><path d="M1.2 1.6C0.6 0.9 1.2 0.3 2 0.7L14.3 6.6C15.2 7 15.2 7.9 14.3 8.4L3.4 14.6C2.6 15.1 1.9 14.7 2 13.8Z" fill="#2f7bf0"/><path d="M1.2 1.6L2 13.8C1.9 14.7 2.6 15.1 3.4 14.6L6.8 8Z" fill="#5aa0f8"/></svg></div><div class="ts">XLU</div><div class="tb" style="width:76.2px"></div><div class="tl" style="left:187.0px">+0.73%</div></div><div class="trow" style="top:199.2px"><i></i><div class="tib"><svg class="abs" style="left:3.5px;top:3px" width="11.5" height="11.5" viewBox="0 0 16 16" ><path d="M1.2 1.6C0.6 0.9 1.2 0.3 2 0.7L14.3 6.6C15.2 7 15.2 7.9 14.3 8.4L3.4 14.6C2.6 15.1 1.9 14.7 2 13.8Z" fill="#2f7bf0"/><path d="M1.2 1.6L2 13.8C1.9 14.7 2.6 15.1 3.4 14.6L6.8 8Z" fill="#5aa0f8"/></svg></div><div class="ts">PPH</div><div class="tb" style="width:73.1px"></div><div class="tl" style="left:183.9px">+0.70%</div></div><div class="trow" style="top:224.1px"><i></i><div class="tib"><svg class="abs" style="left:3.5px;top:3px" width="11.5" height="11.5" viewBox="0 0 16 16" ><path d="M1.2 1.6C0.6 0.9 1.2 0.3 2 0.7L14.3 6.6C15.2 7 15.2 7.9 14.3 8.4L3.4 14.6C2.6 15.1 1.9 14.7 2 13.8Z" fill="#2f7bf0"/><path d="M1.2 1.6L2 13.8C1.9 14.7 2.6 15.1 3.4 14.6L6.8 8Z" fill="#5aa0f8"/></svg></div><div class="ts">BBH</div><div class="tb" style="width:69.9px"></div><div class="tl" style="left:180.7px">+0.67%</div></div><div class="trow" style="top:249.0px"><i></i><div class="tib"><svg class="abs" style="left:3.5px;top:3px" width="11.5" height="11.5" viewBox="0 0 16 16" ><path d="M1.2 1.6C0.6 0.9 1.2 0.3 2 0.7L14.3 6.6C15.2 7 15.2 7.9 14.3 8.4L3.4 14.6C2.6 15.1 1.9 14.7 2 13.8Z" fill="#2f7bf0"/><path d="M1.2 1.6L2 13.8C1.9 14.7 2.6 15.1 3.4 14.6L6.8 8Z" fill="#5aa0f8"/></svg></div><div class="ts">IHI</div><div class="tb" style="width:50.1px"></div><div class="tl" style="left:160.9px">+0.48%</div></div><div class="trow" style="top:273.9px"><i></i><div class="tib"><svg class="abs" style="left:3.5px;top:3px" width="11.5" height="11.5" viewBox="0 0 16 16" ><path d="M1.2 1.6C0.6 0.9 1.2 0.3 2 0.7L14.3 6.6C15.2 7 15.2 7.9 14.3 8.4L3.4 14.6C2.6 15.1 1.9 14.7 2 13.8Z" fill="#2f7bf0"/><path d="M1.2 1.6L2 13.8C1.9 14.7 2.6 15.1 3.4 14.6L6.8 8Z" fill="#5aa0f8"/></svg></div><div class="ts">GLD</div><div class="tb" style="width:41.8px"></div><div class="tl" style="left:152.6px">+0.40%</div></div><div class="trow" style="top:298.79999999999995px"><i></i><div class="tib"><svg class="abs" style="left:3.5px;top:3px" width="11.5" height="11.5" viewBox="0 0 16 16" ><path d="M1.2 1.6C0.6 0.9 1.2 0.3 2 0.7L14.3 6.6C15.2 7 15.2 7.9 14.3 8.4L3.4 14.6C2.6 15.1 1.9 14.7 2 13.8Z" fill="#2f7bf0"/><path d="M1.2 1.6L2 13.8C1.9 14.7 2.6 15.1 3.4 14.6L6.8 8Z" fill="#5aa0f8"/></svg></div><div class="ts">JETS</div><div class="tb" style="width:36.5px"></div><div class="tl" style="left:147.3px">+0.35%</div></div><div class="trow" style="top:323.7px"><i></i><div class="tib"><svg class="abs" style="left:3.5px;top:3px" width="11.5" height="11.5" viewBox="0 0 16 16" ><path d="M1.2 1.6C0.6 0.9 1.2 0.3 2 0.7L14.3 6.6C15.2 7 15.2 7.9 14.3 8.4L3.4 14.6C2.6 15.1 1.9 14.7 2 13.8Z" fill="#2f7bf0"/><path d="M1.2 1.6L2 13.8C1.9 14.7 2.6 15.1 3.4 14.6L6.8 8Z" fill="#5aa0f8"/></svg></div><div class="ts">IDRV</div><div class="tb" style="width:26.1px"></div><div class="tl" style="left:136.9px">+0.25%</div></div><div class="trow" style="top:348.59999999999997px"><i></i><div class="tib"><svg class="abs" style="left:3.5px;top:3px" width="11.5" height="11.5" viewBox="0 0 16 16" ><path d="M1.2 1.6C0.6 0.9 1.2 0.3 2 0.7L14.3 6.6C15.2 7 15.2 7.9 14.3 8.4L3.4 14.6C2.6 15.1 1.9 14.7 2 13.8Z" fill="#2f7bf0"/><path d="M1.2 1.6L2 13.8C1.9 14.7 2.6 15.1 3.4 14.6L6.8 8Z" fill="#5aa0f8"/></svg></div><div class="ts">ARTY</div><div class="tb" style="width:26.1px"></div><div class="tl" style="left:136.9px">+0.25%</div></div></div><div class="abs" style="left:0;top:1368px;width:622px;height:19px;background:#ecedfb"></div><div class="ft" style="left:11px;top:1372px">50 results</div></div></body></html>
